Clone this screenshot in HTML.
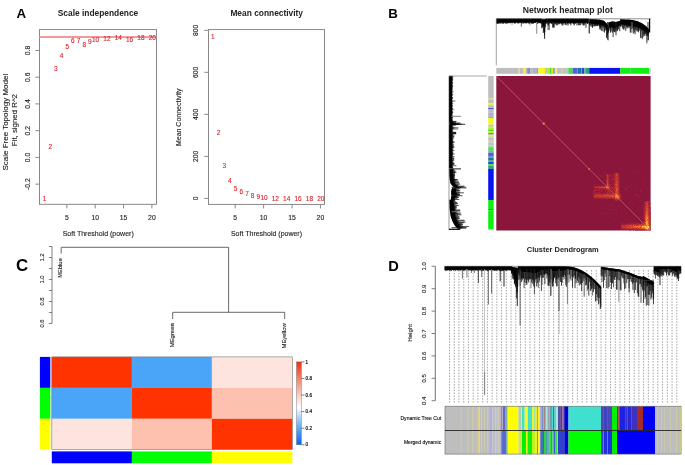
<!DOCTYPE html>
<html><head><meta charset="utf-8"><style>
html,body{margin:0;padding:0;background:#fff;width:685px;height:465px;overflow:hidden}
svg{display:block;will-change:transform}
text{font-family:"Liberation Sans", sans-serif}
</style></head><body>
<svg width="685" height="465" viewBox="0 0 685 465" font-family="Liberation Sans, sans-serif" dominant-baseline="auto">
<defs><filter id="soft" x="0" y="0" width="685" height="465" filterUnits="userSpaceOnUse"><feGaussianBlur stdDeviation="0.45"/></filter><filter id="bl1" x="-50%" y="-50%" width="200%" height="200%"><feGaussianBlur stdDeviation="0.9"/></filter><filter id="bl2" x="-50%" y="-50%" width="200%" height="200%"><feGaussianBlur stdDeviation="1.6"/></filter><clipPath id="hmclip"><rect x="496.3" y="76.0" width="154.3" height="154.5"/></clipPath><filter id="bl0" x="-5%" y="-5%" width="110%" height="110%"><feGaussianBlur stdDeviation="0.6"/></filter><g id="dB"><polygon points="496.60,18.80 497.10,18.80 497.60,18.80 498.10,18.80 498.60,18.80 499.10,18.80 499.60,18.80 500.10,18.80 500.60,18.80 501.10,18.80 501.60,18.80 502.10,18.80 502.60,18.80 503.10,18.80 503.60,18.80 504.10,18.80 504.60,18.80 505.10,18.80 505.60,18.80 506.10,18.80 506.60,18.80 507.10,18.80 507.60,18.80 508.10,18.80 508.60,18.80 509.10,18.80 509.60,18.80 510.10,18.80 510.60,18.80 511.10,18.80 511.60,18.80 512.10,18.80 512.60,18.80 513.10,18.80 513.60,18.80 514.10,18.80 514.60,18.80 515.10,18.80 515.60,18.80 516.10,18.80 516.60,18.80 517.10,18.80 517.60,18.80 518.10,18.80 518.60,18.80 519.10,18.80 519.60,18.80 520.10,18.80 520.60,18.80 521.10,18.80 521.60,18.80 522.10,18.80 522.60,18.80 523.10,18.80 523.60,18.80 524.10,18.80 524.60,18.80 525.10,18.80 525.60,18.80 526.10,18.80 526.60,18.80 527.10,18.80 527.60,18.80 528.10,18.80 528.60,18.80 529.10,18.80 529.60,18.80 530.10,18.80 530.60,18.80 531.10,18.80 531.60,18.80 532.10,18.80 532.60,18.80 533.10,18.80 533.60,18.80 534.10,18.80 534.60,18.80 535.10,18.80 535.60,18.80 536.10,18.80 536.60,18.80 537.10,18.80 537.60,18.80 538.10,18.80 538.60,18.80 539.10,18.80 539.60,18.80 540.10,18.80 540.60,18.80 541.10,18.80 541.60,18.80 541.60,22.60 541.10,22.60 540.60,22.60 540.10,22.60 539.60,22.60 539.10,22.60 538.60,22.60 538.10,22.60 537.60,22.60 537.10,22.60 536.60,22.60 536.10,22.60 535.60,22.60 535.10,22.60 534.60,22.60 534.10,22.60 533.60,22.60 533.10,22.60 532.60,22.60 532.10,22.60 531.60,22.60 531.10,22.60 530.60,22.60 530.10,22.60 529.60,22.60 529.10,22.60 528.60,22.60 528.10,22.60 527.60,22.60 527.10,22.60 526.60,22.60 526.10,22.60 525.60,22.60 525.10,22.60 524.60,22.60 524.10,22.60 523.60,22.60 523.10,22.60 522.60,22.60 522.10,22.60 521.60,22.60 521.10,22.60 520.60,22.60 520.10,22.60 519.60,22.60 519.10,22.60 518.60,22.60 518.10,22.60 517.60,22.60 517.10,22.60 516.60,22.60 516.10,22.60 515.60,22.60 515.10,22.60 514.60,22.60 514.10,22.60 513.60,22.60 513.10,22.60 512.60,22.60 512.10,22.60 511.60,22.60 511.10,22.60 510.60,22.60 510.10,22.60 509.60,22.60 509.10,22.60 508.60,22.60 508.10,22.60 507.60,22.60 507.10,22.60 506.60,22.60 506.10,22.60 505.60,22.60 505.10,22.60 504.60,22.60 504.10,22.60 503.60,22.60 503.10,22.60 502.60,22.60 502.10,22.60 501.60,22.60 501.10,22.60 500.60,22.60 500.10,22.60 499.60,22.60 499.10,22.60 498.60,22.60 498.10,22.60 497.60,22.60 497.10,22.60 496.60,22.60" fill="#000" opacity="1.0"/><polygon points="541.70,19.00 542.20,19.11 542.70,19.22 543.20,19.33 543.70,19.43 544.20,19.45 544.70,19.34 545.20,19.23 545.70,19.11 546.20,19.00 546.20,22.00 545.70,22.95 545.20,24.58 544.70,28.98 544.20,28.59 543.70,26.87 543.20,25.45 542.70,24.30 542.20,23.15 541.70,22.00" fill="#000" opacity="1.0"/><polygon points="546.20,18.80 546.70,18.80 547.20,18.80 547.70,18.80 548.20,18.80 548.70,18.80 549.20,18.80 549.70,18.80 550.20,18.80 550.70,18.80 551.20,18.80 551.70,18.80 552.20,18.80 552.70,18.80 553.20,18.80 553.70,18.80 554.20,18.80 554.70,18.80 555.20,18.80 555.70,18.80 556.20,18.80 556.70,18.80 557.20,18.80 557.70,18.80 558.20,18.80 558.70,18.80 559.20,18.80 559.70,18.80 560.20,18.80 560.70,18.80 561.20,18.80 561.70,18.80 562.20,18.80 562.70,18.80 563.20,18.80 563.70,18.80 564.20,18.80 564.70,18.80 565.20,18.80 565.70,18.80 566.20,18.80 566.70,18.80 567.20,18.80 567.70,18.80 568.20,18.80 568.70,18.80 569.20,18.80 569.70,18.80 570.20,18.80 570.70,18.80 571.20,18.80 571.70,18.80 572.20,18.80 572.70,18.80 573.20,18.80 573.70,18.80 574.20,18.80 574.70,18.80 575.20,18.80 575.70,18.80 576.20,18.80 576.70,18.80 577.20,18.80 577.70,18.80 578.20,18.80 578.70,18.80 579.20,18.80 579.70,18.80 580.20,18.80 580.70,18.80 581.20,18.80 581.70,18.80 582.20,18.80 582.70,18.80 583.20,18.80 583.70,18.80 584.20,18.80 584.70,18.80 585.20,18.80 585.70,18.80 586.20,18.80 586.70,18.80 587.20,18.80 587.70,18.80 588.20,18.80 588.70,18.80 588.70,22.80 588.20,22.80 587.70,22.80 587.20,22.80 586.70,22.80 586.20,22.80 585.70,22.80 585.20,22.80 584.70,22.80 584.20,22.80 583.70,22.80 583.20,22.80 582.70,22.80 582.20,22.80 581.70,22.80 581.20,22.80 580.70,22.80 580.20,22.80 579.70,22.80 579.20,22.80 578.70,22.80 578.20,22.80 577.70,22.80 577.20,22.80 576.70,22.80 576.20,22.80 575.70,22.80 575.20,22.80 574.70,22.80 574.20,22.80 573.70,22.80 573.20,22.80 572.70,22.80 572.20,22.80 571.70,22.80 571.20,22.80 570.70,22.80 570.20,22.80 569.70,22.80 569.20,22.80 568.70,22.80 568.20,22.80 567.70,22.80 567.20,22.80 566.70,22.80 566.20,22.80 565.70,22.80 565.20,22.80 564.70,22.80 564.20,22.80 563.70,22.80 563.20,22.80 562.70,22.80 562.20,22.80 561.70,22.80 561.20,22.80 560.70,22.80 560.20,22.80 559.70,22.80 559.20,22.80 558.70,22.80 558.20,22.80 557.70,22.80 557.20,22.80 556.70,22.80 556.20,22.80 555.70,22.80 555.20,22.80 554.70,22.80 554.20,22.80 553.70,22.80 553.20,22.80 552.70,22.80 552.20,22.80 551.70,22.80 551.20,22.80 550.70,22.80 550.20,22.80 549.70,22.80 549.20,22.80 548.70,22.80 548.20,22.80 547.70,22.80 547.20,22.80 546.70,22.80 546.20,22.80" fill="#000" opacity="1.0"/><polygon points="589.60,19.20 590.10,19.23 590.60,19.26 591.10,19.29 591.60,19.32 592.10,19.34 592.60,19.37 593.10,19.40 593.60,19.43 594.10,19.46 594.60,19.49 595.10,19.52 595.60,19.55 596.10,19.57 596.60,19.60 597.10,19.63 597.60,19.66 598.10,19.69 598.60,19.72 599.10,19.75 599.60,19.78 600.10,19.83 600.60,19.97 601.10,20.10 601.60,20.24 602.10,20.38 602.60,20.52 603.10,20.65 603.60,20.79 604.10,21.00 604.60,21.52 605.10,22.04 605.60,22.55 606.10,23.07 606.60,23.59 607.10,24.25 607.60,25.50 608.10,26.75 608.60,28.00 608.60,32.25 608.10,31.53 607.60,30.81 607.10,30.09 606.60,29.42 606.10,28.77 605.60,28.11 605.10,27.45 604.60,26.79 604.10,26.13 603.60,25.87 603.10,25.70 602.60,25.53 602.10,25.37 601.60,25.20 601.10,25.03 600.60,24.86 600.10,24.70 599.60,24.62 599.10,24.56 598.60,24.50 598.10,24.44 597.60,24.38 597.10,24.33 596.60,24.27 596.10,24.21 595.60,24.15 595.10,24.09 594.60,24.03 594.10,23.98 593.60,23.92 593.10,23.86 592.60,23.80 592.10,23.74 591.60,23.68 591.10,23.63 590.60,23.57 590.10,23.51 589.60,23.45" fill="#000" opacity="1.0"/><polygon points="608.60,22.50 609.10,22.35 609.60,22.21 610.10,22.06 610.60,21.91 611.10,21.76 611.60,21.62 612.10,21.51 612.60,21.58 613.10,21.64 613.60,21.70 614.10,21.76 614.60,21.83 615.10,21.89 615.60,21.95 616.10,21.98 616.60,21.86 617.10,21.74 617.60,21.63 618.10,21.51 618.60,21.40 619.10,21.28 619.60,21.16 620.10,21.05 620.10,24.57 619.60,25.01 619.10,25.45 618.60,25.89 618.10,26.32 617.60,26.76 617.10,27.20 616.60,27.63 616.10,28.07 615.60,28.37 615.10,28.62 614.60,28.52 614.10,28.32 613.60,28.13 613.10,27.93 612.60,27.74 612.10,27.54 611.60,27.51 611.10,27.53 610.60,27.54 610.10,27.56 609.60,27.57 609.10,27.59 608.60,27.60" fill="#000" opacity="1.0"/><polygon points="620.30,19.50 620.80,19.52 621.30,19.53 621.80,19.55 622.30,19.56 622.80,19.58 623.30,19.59 623.80,19.61 624.30,19.62 624.80,19.64 625.30,19.65 625.80,19.67 626.30,19.69 626.80,19.70 627.30,19.72 627.80,19.73 628.30,19.75 628.80,19.76 629.30,19.78 629.80,19.79 630.30,19.86 630.80,19.95 631.30,20.04 631.80,20.13 632.30,20.23 632.80,20.32 633.30,20.41 633.80,20.51 634.30,20.60 634.80,20.69 635.30,20.78 635.80,20.88 636.30,20.97 636.80,21.06 637.30,21.24 637.80,21.47 638.30,21.70 638.80,21.93 639.30,22.16 639.80,22.39 640.30,22.62 640.80,22.85 641.30,23.08 641.80,23.31 642.30,23.62 642.80,23.98 643.30,24.34 643.80,24.70 644.30,25.07 644.80,25.43 645.30,25.79 645.80,26.15 646.30,26.62 646.80,27.15 647.30,27.69 647.80,28.22 648.30,28.75 648.80,29.29 648.80,34.41 648.30,33.94 647.80,33.47 647.30,32.99 646.80,32.52 646.30,32.05 645.80,31.64 645.30,31.34 644.80,31.04 644.30,30.74 643.80,30.44 643.30,30.13 642.80,29.83 642.30,29.53 641.80,29.26 641.30,29.03 640.80,28.80 640.30,28.57 639.80,28.34 639.30,28.11 638.80,27.88 638.30,27.65 637.80,27.42 637.30,27.19 636.80,27.01 636.30,26.92 635.80,26.83 635.30,26.73 634.80,26.64 634.30,26.55 633.80,26.46 633.30,26.36 632.80,26.27 632.30,26.18 631.80,26.08 631.30,25.99 630.80,25.90 630.30,25.81 629.80,25.72 629.30,25.64 628.80,25.56 628.30,25.47 627.80,25.39 627.30,25.31 626.80,25.23 626.30,25.15 625.80,25.07 625.30,24.99 624.80,24.91 624.30,24.82 623.80,24.74 623.30,24.66 622.80,24.58 622.30,24.50 621.80,24.42 621.30,24.34 620.80,24.26 620.30,24.18" fill="#000" opacity="1.0"/><path d="M496.60 18.80V23.46M497.13 18.80V23.90M497.80 18.80V22.97M498.55 18.80V23.90M499.06 18.80V23.01M499.49 18.80V22.82M499.83 18.80V23.90M502.22 18.80V23.11M502.65 18.80V23.70M503.22 18.80V23.90M503.75 18.80V23.13M504.25 18.80V23.09M504.89 18.80V23.01M506.08 18.80V23.38M506.95 18.80V23.90M507.47 18.80V23.17M508.01 18.80V22.96M508.61 18.80V23.29M509.73 18.80V22.65M510.09 18.80V23.45M510.70 18.80V22.99M511.79 18.80V22.90M512.29 18.80V23.03M513.02 18.80V23.11M513.71 18.80V22.67M514.35 18.80V23.51M515.10 18.80V23.89M515.72 18.80V22.94M517.04 18.80V22.66M517.79 18.80V23.55M518.88 18.80V23.55M519.36 18.80V22.72M519.78 18.80V22.68M521.34 18.80V22.96M522.67 18.80V22.70M524.83 18.80V22.74M525.67 18.80V23.18M526.99 18.80V23.27M528.22 18.80V22.85M528.88 18.80V23.82M529.42 18.80V22.68M529.75 18.80V23.90M531.61 18.80V23.78M532.18 18.80V22.94M532.63 18.80V23.90M533.24 18.80V23.90M534.18 18.80V22.89M534.77 18.80V22.93M535.13 18.80V22.68M535.81 18.80V23.06M536.77 18.80V23.64M537.72 18.80V23.90M539.96 18.80V22.99M540.31 18.80V23.34M540.66 18.80V22.99M541.11 18.80V23.76M541.70 19.00V28.20M542.17 19.10V27.43M543.33 19.35V33.09M543.78 19.45V31.58M544.50 19.39V35.14M544.84 19.31V31.98M546.20 18.80V23.21M546.80 18.80V24.03M548.03 18.80V25.40M548.43 18.80V25.40M550.21 18.80V23.24M551.48 18.80V24.12M551.97 18.80V23.37M553.88 18.80V25.40M554.24 18.80V23.65M555.38 18.80V23.53M555.73 18.80V23.25M556.12 18.80V25.40M556.68 18.80V24.53M557.29 18.80V25.40M558.49 18.80V23.88M559.08 18.80V24.04M560.27 18.80V23.29M560.74 18.80V23.54M561.67 18.80V24.30M562.10 18.80V24.65M562.62 18.80V24.21M564.03 18.80V23.42M565.06 18.80V24.86M565.52 18.80V24.66M566.86 18.80V25.40M567.41 18.80V23.41M568.12 18.80V25.40M568.78 18.80V23.28M569.34 18.80V22.91M569.82 18.80V23.65M570.24 18.80V24.14M570.92 18.80V25.40M571.37 18.80V23.27M571.91 18.80V23.08M572.37 18.80V23.32M572.86 18.80V23.29M573.44 18.80V24.51M574.34 18.80V25.40M574.84 18.80V23.78M575.47 18.80V23.72M576.11 18.80V23.12M577.50 18.80V23.30M578.82 18.80V25.09M579.40 18.80V24.85M581.07 18.80V23.17M581.76 18.80V23.42M582.36 18.80V24.71M582.87 18.80V23.47M583.82 18.80V25.40M584.77 18.80V25.40M585.42 18.80V23.32M586.00 18.80V23.49M586.75 18.80V23.14M587.46 18.80V24.00M587.80 18.80V23.75M588.29 18.80V23.10M589.60 19.20V24.96M590.68 19.26V26.46M591.13 19.29V25.12M591.87 19.33V26.82M592.84 19.39V26.85M594.55 19.49V26.30M595.41 19.54V25.66M595.89 19.56V26.27M596.35 19.59V25.69M597.52 19.66V26.07M598.73 19.73V25.50M599.42 19.77V26.58M599.81 19.79V28.87M600.18 19.85V30.05M600.53 19.95V28.10M601.59 20.24V30.71M602.10 20.38V26.77M602.82 20.58V31.29M603.26 20.70V27.78M605.14 22.08V30.40M606.47 23.45V37.92M609.96 22.10V30.80M610.93 21.81V31.90M612.36 21.55V32.55M613.11 21.64V37.16M613.51 21.69V30.85M615.03 21.88V32.30M616.13 21.97V31.58M616.80 21.81V29.73M617.53 21.64V31.10M617.94 21.55V29.72M618.63 21.39V28.98M619.76 21.13V31.24M620.30 19.50V26.45M620.92 19.52V26.39M622.10 19.56V27.29M623.31 19.59V29.35M623.99 19.61V29.77M625.00 19.65V26.35M625.74 19.67V30.87M626.37 19.69V26.74M627.40 19.72V26.66M627.81 19.73V28.35M628.53 19.75V26.66M628.99 19.77V28.15M630.27 19.85V32.51M630.96 19.98V32.71M632.05 20.18V29.29M632.39 20.24V27.81M632.83 20.33V28.16M633.34 20.42V33.63M633.88 20.52V29.85M634.34 20.61V32.53M635.10 20.75V34.28M636.31 20.97V30.40M637.67 21.41V31.13M638.16 21.63V29.29M638.56 21.82V32.40M639.17 22.10V30.76M640.54 22.73V37.77M641.74 23.28V31.25M643.31 24.35V36.54M644.76 25.40V36.07M645.13 25.67V33.13M645.69 26.07V34.27M646.27 26.59V35.95M646.85 27.20V43.31M647.90 28.32V36.38" stroke="#000" stroke-width="0.75" fill="none" opacity="1.0"/><path d="M497.47 18.80V23.85M500.25 18.80V22.81M500.89 18.80V23.90M501.51 18.80V22.84M505.65 18.80V23.84M509.04 18.80V22.75M511.26 18.80V22.85M518.12 18.80V23.17M520.33 18.80V22.66M522.04 18.80V23.90M523.74 18.80V23.90M524.23 18.80V22.95M525.18 18.80V22.86M526.65 18.80V22.70M533.72 18.80V22.68M537.33 18.80V23.85M538.13 18.80V23.04M539.44 18.80V23.19M542.57 19.19V27.27M545.61 19.13V27.22M549.08 18.80V24.13M549.67 18.80V23.53M552.70 18.80V24.17M553.46 18.80V25.40M554.91 18.80V24.00M559.61 18.80V24.33M561.33 18.80V23.41M563.10 18.80V25.30M563.50 18.80V23.29M564.45 18.80V23.31M567.77 18.80V24.01M573.85 18.80V23.41M576.83 18.80V25.40M578.19 18.80V25.40M580.69 18.80V25.13M583.42 18.80V25.40M584.37 18.80V23.73M592.48 19.37V28.05M595.06 19.52V25.59M596.92 19.62V25.78M601.08 20.10V26.40M604.48 21.40V32.57M605.86 22.82V30.39M607.10 24.25V36.64M607.49 25.22V39.68M608.23 27.06V40.39M608.60 22.50V32.67M610.54 21.93V32.78M614.14 21.77V32.09M614.68 21.83V31.99M619.37 21.22V26.49M621.59 19.54V25.51M622.68 19.57V28.60M626.84 19.70V28.48M629.76 19.79V27.41M631.60 20.10V29.04M635.57 20.83V29.72M636.99 21.10V31.77M641.22 23.04V38.27M644.38 25.13V34.49M647.32 27.70V35.44M648.42 28.88V39.94" stroke="#000" stroke-width="0.75" fill="none" opacity="0.9"/><path d="M506.62 18.80V22.83M516.33 18.80V22.79M520.66 18.80V22.85M523.32 18.80V22.83M526.12 18.80V23.90M527.71 18.80V22.80M530.28 18.80V22.97M531.04 18.80V22.76M536.36 18.80V23.42M538.75 18.80V22.93M547.49 18.80V23.42M550.95 18.80V23.29M557.93 18.80V23.36M566.03 18.80V23.61M566.43 18.80V22.93M580.10 18.80V25.40M590.00 19.22V24.65M593.25 19.41V25.98M593.96 19.45V26.32M598.05 19.69V25.84M603.98 20.89V31.84M609.34 22.28V29.09M611.65 21.60V30.22M615.38 21.92V30.20M620.28 21.01V26.15M624.41 19.63V28.15M639.81 22.39V29.95M642.42 23.71V39.22M642.79 23.97V38.05M643.72 24.65V34.18" stroke="#000" stroke-width="0.75" fill="none" opacity="0.75"/><path d="M521.30 22.00V26.70M549.30 22.00V30.00" stroke="#222" stroke-width="0.7" fill="none" opacity="1.0"/><path d="M536.70 22.00V33.70" stroke="#999" stroke-width="1.2" fill="none" opacity="1.0"/><path d="M544.60 22.00V38.80M607.70 22.00V33.80M648.00 22.00V40.50" stroke="#111" stroke-width="0.9" fill="none" opacity="1.0"/><path d="M548.10 22.00V30.20M586.00 22.00V27.90" stroke="#222" stroke-width="0.8" fill="none" opacity="1.0"/><path d="M553.40 22.00V27.60" stroke="#222" stroke-width="2.4" fill="none" opacity="1.0"/><path d="M558.00 22.00V25.00M562.20 22.00V26.00" stroke="#333" stroke-width="0.6" fill="none" opacity="1.0"/><path d="M589.20 22.00V33.50" stroke="#000" stroke-width="1.0" fill="none" opacity="1.0"/><path d="M616.00 22.00V35.40" stroke="#222" stroke-width="0.9" fill="none" opacity="1.0"/><path d="M632.00 22.00V32.40" stroke="#888" stroke-width="0.9" fill="none" opacity="1.0"/><path d="M512.00 22.00V25.00M530.00 22.00V25.50" stroke="#444" stroke-width="0.5" fill="none" opacity="1.0"/><path d="M496.30 18.80H650.60" stroke="#444" stroke-width="0.6" fill="none" opacity="1.0"/><path d="M496.30 18.80V65.30" stroke="#777" stroke-width="0.7" fill="none" opacity="1.0"/><path d="M649.60 18.80V32.60" stroke="#000" stroke-width="1.2" fill="none" opacity="1.0"/></g><linearGradient id="lg" x1="0" y1="1" x2="0" y2="0"><stop offset="0" stop-color="#0066ee"/><stop offset="0.25" stop-color="#7ab8f8"/><stop offset="0.45" stop-color="#ffffff"/><stop offset="0.7" stop-color="#f8a898"/><stop offset="1" stop-color="#f03010"/></linearGradient></defs>
<rect width="685" height="465" fill="#fff"/>
<text x="21.3" y="18" font-size="13.3" text-anchor="middle" font-weight="bold" fill="#000">A</text>
<text x="98" y="15.9" font-size="8.4" text-anchor="middle" font-weight="bold" fill="#222">Scale independence</text>
<rect x="39.5" y="29.6" width="117.0" height="174.70000000000002" fill="none" stroke="#7c7c7c" stroke-width="0.9"/>
<line x1="35.4" y1="184.14000000000001" x2="39.5" y2="184.14000000000001" stroke="#7c7c7c" stroke-width="0.9"/>
<text x="29.9" y="184.14000000000001" font-size="6.8" text-anchor="middle" fill="#222" transform="rotate(-90 29.9 184.14000000000001)" stroke="#222" stroke-width="0.12">-0.2</text>
<line x1="35.4" y1="157.4" x2="39.5" y2="157.4" stroke="#7c7c7c" stroke-width="0.9"/>
<text x="29.9" y="157.4" font-size="6.8" text-anchor="middle" fill="#222" transform="rotate(-90 29.9 157.4)" stroke="#222" stroke-width="0.12">0.0</text>
<line x1="35.4" y1="130.66" x2="39.5" y2="130.66" stroke="#7c7c7c" stroke-width="0.9"/>
<text x="29.9" y="130.66" font-size="6.8" text-anchor="middle" fill="#222" transform="rotate(-90 29.9 130.66)" stroke="#222" stroke-width="0.12">0.2</text>
<line x1="35.4" y1="103.92000000000002" x2="39.5" y2="103.92000000000002" stroke="#7c7c7c" stroke-width="0.9"/>
<text x="29.9" y="103.92000000000002" font-size="6.8" text-anchor="middle" fill="#222" transform="rotate(-90 29.9 103.92000000000002)" stroke="#222" stroke-width="0.12">0.4</text>
<line x1="35.4" y1="77.18000000000002" x2="39.5" y2="77.18000000000002" stroke="#7c7c7c" stroke-width="0.9"/>
<text x="29.9" y="77.18000000000002" font-size="6.8" text-anchor="middle" fill="#222" transform="rotate(-90 29.9 77.18000000000002)" stroke="#222" stroke-width="0.12">0.6</text>
<line x1="35.4" y1="50.44000000000001" x2="39.5" y2="50.44000000000001" stroke="#7c7c7c" stroke-width="0.9"/>
<text x="29.9" y="50.44000000000001" font-size="6.8" text-anchor="middle" fill="#222" transform="rotate(-90 29.9 50.44000000000001)" stroke="#222" stroke-width="0.12">0.8</text>
<line x1="66.85" y1="204.3" x2="66.85" y2="208.4" stroke="#7c7c7c" stroke-width="0.9"/>
<text x="66.85" y="220.0" font-size="6.8" text-anchor="middle" fill="#222" stroke="#222" stroke-width="0.12">5</text>
<line x1="95.19999999999999" y1="204.3" x2="95.19999999999999" y2="208.4" stroke="#7c7c7c" stroke-width="0.9"/>
<text x="95.19999999999999" y="220.0" font-size="6.8" text-anchor="middle" fill="#222" stroke="#222" stroke-width="0.12">10</text>
<line x1="123.55" y1="204.3" x2="123.55" y2="208.4" stroke="#7c7c7c" stroke-width="0.9"/>
<text x="123.55" y="220.0" font-size="6.8" text-anchor="middle" fill="#222" stroke="#222" stroke-width="0.12">15</text>
<line x1="151.89999999999998" y1="204.3" x2="151.89999999999998" y2="208.4" stroke="#7c7c7c" stroke-width="0.9"/>
<text x="151.89999999999998" y="220.0" font-size="6.8" text-anchor="middle" fill="#222" stroke="#222" stroke-width="0.12">20</text>
<text x="98.2" y="236.3" font-size="7.0" text-anchor="middle" fill="#222" stroke="#222" stroke-width="0.12">Soft Threshold (power)</text>
<text x="7.6" y="122.2" font-size="8.0" text-anchor="middle" fill="#222" transform="rotate(-90 7.6 122.2)" stroke="#222" stroke-width="0.12">Scale Free Topology Model</text>
<text x="17.5" y="120.1" font-size="7.85" text-anchor="middle" fill="#222" transform="rotate(-90 17.5 120.1)" stroke="#222" stroke-width="0.12">Fit, signed R^2</text>
<line x1="39.5" y1="37.0" x2="156.5" y2="37.0" stroke="#f29a9a" stroke-width="1.8"/>
<text x="44.57" y="201.3" font-size="6.5" text-anchor="middle" fill="#dd1f26" stroke="#dd1f26" stroke-width="0.12">1</text>
<text x="50.24" y="148.9" font-size="6.5" text-anchor="middle" fill="#dd1f26" stroke="#dd1f26" stroke-width="0.12">2</text>
<text x="55.91" y="70.7" font-size="6.5" text-anchor="middle" fill="#dd1f26" stroke="#dd1f26" stroke-width="0.12">3</text>
<text x="61.58" y="57.5" font-size="6.5" text-anchor="middle" fill="#dd1f26" stroke="#dd1f26" stroke-width="0.12">4</text>
<text x="67.25" y="49.2" font-size="6.5" text-anchor="middle" fill="#dd1f26" stroke="#dd1f26" stroke-width="0.12">5</text>
<text x="72.92" y="43.3" font-size="6.5" text-anchor="middle" fill="#dd1f26" stroke="#dd1f26" stroke-width="0.12">6</text>
<text x="78.59" y="43.3" font-size="6.5" text-anchor="middle" fill="#dd1f26" stroke="#dd1f26" stroke-width="0.12">7</text>
<text x="84.26" y="47.1" font-size="6.5" text-anchor="middle" fill="#dd1f26" stroke="#dd1f26" stroke-width="0.12">8</text>
<text x="89.93" y="43.9" font-size="6.5" text-anchor="middle" fill="#dd1f26" stroke="#dd1f26" stroke-width="0.12">9</text>
<text x="95.6" y="42.4" font-size="6.5" text-anchor="middle" fill="#dd1f26" stroke="#dd1f26" stroke-width="0.12">10</text>
<text x="106.94" y="41.4" font-size="6.5" text-anchor="middle" fill="#dd1f26" stroke="#dd1f26" stroke-width="0.12">12</text>
<text x="118.28" y="40.4" font-size="6.5" text-anchor="middle" fill="#dd1f26" stroke="#dd1f26" stroke-width="0.12">14</text>
<text x="129.62" y="41.6" font-size="6.5" text-anchor="middle" fill="#dd1f26" stroke="#dd1f26" stroke-width="0.12">16</text>
<text x="140.96" y="39.5" font-size="6.5" text-anchor="middle" fill="#dd1f26" stroke="#dd1f26" stroke-width="0.12">18</text>
<text x="152.3" y="39.9" font-size="6.5" text-anchor="middle" fill="#dd1f26" stroke="#dd1f26" stroke-width="0.12">20</text>
<text x="266.7" y="15.9" font-size="8.4" text-anchor="middle" font-weight="bold" fill="#222">Mean connectivity</text>
<rect x="208.5" y="29.6" width="116.0" height="174.8" fill="none" stroke="#7c7c7c" stroke-width="0.9"/>
<line x1="204.3" y1="198.4" x2="208.5" y2="198.4" stroke="#7c7c7c" stroke-width="0.9"/>
<text x="198.3" y="198.4" font-size="6.8" text-anchor="middle" fill="#222" transform="rotate(-90 198.3 198.4)" stroke="#222" stroke-width="0.12">0</text>
<line x1="204.3" y1="156.38" x2="208.5" y2="156.38" stroke="#7c7c7c" stroke-width="0.9"/>
<text x="198.3" y="156.38" font-size="6.8" text-anchor="middle" fill="#222" transform="rotate(-90 198.3 156.38)" stroke="#222" stroke-width="0.12">200</text>
<line x1="204.3" y1="114.36" x2="208.5" y2="114.36" stroke="#7c7c7c" stroke-width="0.9"/>
<text x="198.3" y="114.36" font-size="6.8" text-anchor="middle" fill="#222" transform="rotate(-90 198.3 114.36)" stroke="#222" stroke-width="0.12">400</text>
<line x1="204.3" y1="72.34" x2="208.5" y2="72.34" stroke="#7c7c7c" stroke-width="0.9"/>
<text x="198.3" y="72.34" font-size="6.8" text-anchor="middle" fill="#222" transform="rotate(-90 198.3 72.34)" stroke="#222" stroke-width="0.12">600</text>
<line x1="204.3" y1="30.319999999999993" x2="208.5" y2="30.319999999999993" stroke="#7c7c7c" stroke-width="0.9"/>
<text x="198.3" y="30.319999999999993" font-size="6.8" text-anchor="middle" fill="#222" transform="rotate(-90 198.3 30.319999999999993)" stroke="#222" stroke-width="0.12">800</text>
<line x1="235.2" y1="204.4" x2="235.2" y2="208.4" stroke="#7c7c7c" stroke-width="0.9"/>
<text x="235.2" y="220.0" font-size="6.8" text-anchor="middle" fill="#222" stroke="#222" stroke-width="0.12">5</text>
<line x1="263.59999999999997" y1="204.4" x2="263.59999999999997" y2="208.4" stroke="#7c7c7c" stroke-width="0.9"/>
<text x="263.59999999999997" y="220.0" font-size="6.8" text-anchor="middle" fill="#222" stroke="#222" stroke-width="0.12">10</text>
<line x1="292.0" y1="204.4" x2="292.0" y2="208.4" stroke="#7c7c7c" stroke-width="0.9"/>
<text x="292.0" y="220.0" font-size="6.8" text-anchor="middle" fill="#222" stroke="#222" stroke-width="0.12">15</text>
<line x1="320.4" y1="204.4" x2="320.4" y2="208.4" stroke="#7c7c7c" stroke-width="0.9"/>
<text x="320.4" y="220.0" font-size="6.8" text-anchor="middle" fill="#222" stroke="#222" stroke-width="0.12">20</text>
<text x="266.5" y="236.3" font-size="7.0" text-anchor="middle" fill="#222" stroke="#222" stroke-width="0.12">Soft Threshold (power)</text>
<text x="181.0" y="117.3" font-size="7.0" text-anchor="middle" fill="#222" transform="rotate(-90 181.0 117.3)" stroke="#222" stroke-width="0.12">Mean Connectivity</text>
<text x="212.88" y="39.0" font-size="6.5" text-anchor="middle" fill="#dd1f26" stroke="#dd1f26" stroke-width="0.12">1</text>
<text x="218.56" y="134.8" font-size="6.5" text-anchor="middle" fill="#dd1f26" stroke="#dd1f26" stroke-width="0.12">2</text>
<text x="224.24" y="168.2" font-size="6.5" text-anchor="middle" fill="#dd1f26" stroke="#dd1f26" stroke-width="0.12">3</text>
<text x="229.92" y="182.8" font-size="6.5" text-anchor="middle" fill="#dd1f26" stroke="#dd1f26" stroke-width="0.12">4</text>
<text x="235.6" y="190.5" font-size="6.5" text-anchor="middle" fill="#dd1f26" stroke="#dd1f26" stroke-width="0.12">5</text>
<text x="241.28" y="194.1" font-size="6.5" text-anchor="middle" fill="#dd1f26" stroke="#dd1f26" stroke-width="0.12">6</text>
<text x="246.96" y="196.3" font-size="6.5" text-anchor="middle" fill="#dd1f26" stroke="#dd1f26" stroke-width="0.12">7</text>
<text x="252.64" y="197.8" font-size="6.5" text-anchor="middle" fill="#dd1f26" stroke="#dd1f26" stroke-width="0.12">8</text>
<text x="258.32" y="198.7" font-size="6.5" text-anchor="middle" fill="#dd1f26" stroke="#dd1f26" stroke-width="0.12">9</text>
<text x="264.0" y="199.6" font-size="6.5" text-anchor="middle" fill="#dd1f26" stroke="#dd1f26" stroke-width="0.12">10</text>
<text x="275.36" y="200.5" font-size="6.5" text-anchor="middle" fill="#dd1f26" stroke="#dd1f26" stroke-width="0.12">12</text>
<text x="286.72" y="200.9" font-size="6.5" text-anchor="middle" fill="#dd1f26" stroke="#dd1f26" stroke-width="0.12">14</text>
<text x="298.08" y="201.0" font-size="6.5" text-anchor="middle" fill="#dd1f26" stroke="#dd1f26" stroke-width="0.12">16</text>
<text x="309.44" y="201.1" font-size="6.5" text-anchor="middle" fill="#dd1f26" stroke="#dd1f26" stroke-width="0.12">18</text>
<text x="320.8" y="201.1" font-size="6.5" text-anchor="middle" fill="#dd1f26" stroke="#dd1f26" stroke-width="0.12">20</text>
<text x="393.0" y="17.7" font-size="13.3" text-anchor="middle" font-weight="bold" fill="#000">B</text>
<text x="567.8" y="13.2" font-size="8.65" text-anchor="middle" font-weight="bold" fill="#222">Network heatmap plot</text>
<rect x="496.30" y="67.90" width="22.30" height="5.90" fill="#bebebe"/>
<rect x="518.60" y="67.90" width="1.00" height="5.90" fill="#d6d496"/>
<rect x="519.60" y="67.90" width="4.00" height="5.90" fill="#bebebe"/>
<rect x="523.60" y="67.90" width="1.80" height="5.90" fill="#f2f040"/>
<rect x="525.40" y="67.90" width="1.60" height="5.90" fill="#bebebe"/>
<rect x="527.00" y="67.90" width="1.00" height="5.90" fill="#70b0b0"/>
<rect x="528.30" y="67.90" width="1.50" height="5.90" fill="#5060c0"/>
<rect x="529.80" y="67.90" width="3.20" height="5.90" fill="#bebebe"/>
<rect x="533.00" y="67.90" width="4.00" height="5.90" fill="#b0b0d4"/>
<rect x="537.00" y="67.90" width="1.40" height="5.90" fill="#70c090"/>
<rect x="538.40" y="67.90" width="6.60" height="5.90" fill="#f8f820"/>
<rect x="545.00" y="67.90" width="2.00" height="5.90" fill="#c8c8a8"/>
<rect x="547.00" y="67.90" width="1.00" height="5.90" fill="#c8e040"/>
<rect x="548.00" y="67.90" width="2.00" height="5.90" fill="#a8f030"/>
<rect x="550.00" y="67.90" width="1.60" height="5.90" fill="#40e020"/>
<rect x="551.60" y="67.90" width="2.00" height="5.90" fill="#c8f020"/>
<rect x="553.60" y="67.90" width="1.00" height="5.90" fill="#605070"/>
<rect x="554.60" y="67.90" width="0.70" height="5.90" fill="#b8b8b0"/>
<rect x="555.30" y="67.90" width="1.30" height="5.90" fill="#f0f040"/>
<rect x="556.60" y="67.90" width="1.40" height="5.90" fill="#d0d0a0"/>
<rect x="558.00" y="67.90" width="3.00" height="5.90" fill="#c0c0cc"/>
<rect x="561.00" y="67.90" width="2.00" height="5.90" fill="#d0d0a0"/>
<rect x="563.00" y="67.90" width="3.00" height="5.90" fill="#c0c0d0"/>
<rect x="566.00" y="67.90" width="1.40" height="5.90" fill="#b0d0b0"/>
<rect x="567.40" y="67.90" width="1.00" height="5.90" fill="#a0a0e0"/>
<rect x="568.40" y="67.90" width="2.60" height="5.90" fill="#40e040"/>
<rect x="571.00" y="67.90" width="2.00" height="5.90" fill="#80b0a0"/>
<rect x="573.00" y="67.90" width="4.00" height="5.90" fill="#5060e0"/>
<rect x="577.00" y="67.90" width="1.00" height="5.90" fill="#50b080"/>
<rect x="578.00" y="67.90" width="3.00" height="5.90" fill="#2070a0"/>
<rect x="581.00" y="67.90" width="1.00" height="5.90" fill="#40d040"/>
<rect x="582.00" y="67.90" width="2.50" height="5.90" fill="#3040e0"/>
<rect x="584.50" y="67.90" width="1.50" height="5.90" fill="#30e040"/>
<rect x="586.00" y="67.90" width="3.20" height="5.90" fill="#30a080"/>
<rect x="589.20" y="67.90" width="31.10" height="5.90" fill="#0a14f0"/>
<rect x="620.30" y="67.90" width="9.00" height="5.90" fill="#10f010"/>
<rect x="629.30" y="67.90" width="1.20" height="5.90" fill="#20a060"/>
<rect x="630.50" y="67.90" width="18.90" height="5.90" fill="#10f010"/>
<rect x="649.40" y="67.90" width="1.20" height="5.90" fill="#c4c4ec"/>
<rect x="488.20" y="76.00" width="5.50" height="22.30" fill="#bebebe"/>
<rect x="488.20" y="98.30" width="5.50" height="1.00" fill="#d6d496"/>
<rect x="488.20" y="99.30" width="5.50" height="4.00" fill="#bebebe"/>
<rect x="488.20" y="103.30" width="5.50" height="1.80" fill="#f2f040"/>
<rect x="488.20" y="105.10" width="5.50" height="1.60" fill="#bebebe"/>
<rect x="488.20" y="106.70" width="5.50" height="1.00" fill="#70b0b0"/>
<rect x="488.20" y="108.00" width="5.50" height="1.50" fill="#5060c0"/>
<rect x="488.20" y="109.50" width="5.50" height="3.20" fill="#bebebe"/>
<rect x="488.20" y="112.70" width="5.50" height="4.00" fill="#b0b0d4"/>
<rect x="488.20" y="116.70" width="5.50" height="1.40" fill="#70c090"/>
<rect x="488.20" y="118.10" width="5.50" height="6.60" fill="#f8f820"/>
<rect x="488.20" y="124.70" width="5.50" height="2.00" fill="#c8c8a8"/>
<rect x="488.20" y="126.70" width="5.50" height="1.00" fill="#c8e040"/>
<rect x="488.20" y="127.70" width="5.50" height="2.00" fill="#a8f030"/>
<rect x="488.20" y="129.70" width="5.50" height="1.60" fill="#40e020"/>
<rect x="488.20" y="131.30" width="5.50" height="2.00" fill="#c8f020"/>
<rect x="488.20" y="133.30" width="5.50" height="1.00" fill="#605070"/>
<rect x="488.20" y="134.30" width="5.50" height="0.70" fill="#b8b8b0"/>
<rect x="488.20" y="135.00" width="5.50" height="1.30" fill="#f0f040"/>
<rect x="488.20" y="136.30" width="5.50" height="1.40" fill="#d0d0a0"/>
<rect x="488.20" y="137.70" width="5.50" height="3.00" fill="#c0c0cc"/>
<rect x="488.20" y="140.70" width="5.50" height="2.00" fill="#d0d0a0"/>
<rect x="488.20" y="142.70" width="5.50" height="3.00" fill="#c0c0d0"/>
<rect x="488.20" y="145.70" width="5.50" height="1.40" fill="#b0d0b0"/>
<rect x="488.20" y="147.10" width="5.50" height="1.00" fill="#a0a0e0"/>
<rect x="488.20" y="148.10" width="5.50" height="2.60" fill="#40e040"/>
<rect x="488.20" y="150.70" width="5.50" height="2.00" fill="#80b0a0"/>
<rect x="488.20" y="152.70" width="5.50" height="4.00" fill="#5060e0"/>
<rect x="488.20" y="156.70" width="5.50" height="1.00" fill="#50b080"/>
<rect x="488.20" y="157.70" width="5.50" height="3.00" fill="#2070a0"/>
<rect x="488.20" y="160.70" width="5.50" height="1.00" fill="#40d040"/>
<rect x="488.20" y="161.70" width="5.50" height="2.50" fill="#3040e0"/>
<rect x="488.20" y="164.20" width="5.50" height="1.50" fill="#30e040"/>
<rect x="488.20" y="165.70" width="5.50" height="3.20" fill="#30a080"/>
<rect x="488.20" y="168.90" width="5.50" height="31.10" fill="#0a14f0"/>
<rect x="488.20" y="200.00" width="5.50" height="9.00" fill="#10f010"/>
<rect x="488.20" y="209.00" width="5.50" height="1.20" fill="#20a060"/>
<rect x="488.20" y="210.20" width="5.50" height="18.90" fill="#10f010"/>
<rect x="488.20" y="229.10" width="5.50" height="1.20" fill="#c4c4ec"/>
<rect x="496.30" y="76.00" width="154.30" height="154.50" fill="#8a173b"/>
<g clip-path="url(#hmclip)"><g filter="url(#bl0)">
<rect x="634" y="170" width="1" height="1" fill="#951c39"/>
<rect x="637" y="170" width="1" height="1" fill="#9a1e38"/>
<rect x="599" y="171" width="1" height="1" fill="#971c39"/>
<rect x="605" y="171" width="1" height="1" fill="#991d38"/>
<rect x="632" y="171" width="1" height="1" fill="#971c39"/>
<rect x="634" y="172" width="1" height="1" fill="#981d38"/>
<rect x="614" y="173" width="1" height="1" fill="#9d1f38"/>
<rect x="615" y="173" width="1" height="1" fill="#c5352e"/>
<rect x="616" y="173" width="1" height="1" fill="#c8382d"/>
<rect x="617" y="173" width="1" height="1" fill="#bf3130"/>
<rect x="618" y="173" width="1" height="1" fill="#af2635"/>
<rect x="634" y="173" width="1" height="1" fill="#981d38"/>
<rect x="606" y="174" width="1" height="1" fill="#9c1e38"/>
<rect x="607" y="174" width="1" height="1" fill="#b12734"/>
<rect x="608" y="174" width="1" height="1" fill="#a52236"/>
<rect x="610" y="174" width="1" height="1" fill="#a12037"/>
<rect x="613" y="174" width="1" height="1" fill="#951b39"/>
<rect x="614" y="174" width="1" height="1" fill="#9f2037"/>
<rect x="615" y="174" width="1" height="1" fill="#b02734"/>
<rect x="616" y="174" width="1" height="1" fill="#d54427"/>
<rect x="617" y="174" width="1" height="1" fill="#c03130"/>
<rect x="618" y="174" width="1" height="1" fill="#a42236"/>
<rect x="619" y="174" width="1" height="1" fill="#971c39"/>
<rect x="621" y="174" width="1" height="1" fill="#971c39"/>
<rect x="600" y="175" width="1" height="1" fill="#991d38"/>
<rect x="604" y="175" width="1" height="1" fill="#971c39"/>
<rect x="606" y="175" width="1" height="1" fill="#a02037"/>
<rect x="607" y="175" width="1" height="1" fill="#ca3a2c"/>
<rect x="608" y="175" width="1" height="1" fill="#a32137"/>
<rect x="609" y="175" width="1" height="1" fill="#a72336"/>
<rect x="610" y="175" width="1" height="1" fill="#971c39"/>
<rect x="611" y="175" width="1" height="1" fill="#ae2635"/>
<rect x="613" y="175" width="1" height="1" fill="#a32237"/>
<rect x="614" y="175" width="1" height="1" fill="#ac2535"/>
<rect x="615" y="175" width="1" height="1" fill="#b42934"/>
<rect x="616" y="175" width="1" height="1" fill="#d74626"/>
<rect x="617" y="175" width="1" height="1" fill="#bf3030"/>
<rect x="618" y="175" width="1" height="1" fill="#aa2435"/>
<rect x="619" y="175" width="1" height="1" fill="#971d39"/>
<rect x="642" y="175" width="1" height="1" fill="#9d1f38"/>
<rect x="602" y="176" width="1" height="1" fill="#9f2037"/>
<rect x="606" y="176" width="1" height="1" fill="#a22137"/>
<rect x="607" y="176" width="1" height="1" fill="#c4352e"/>
<rect x="608" y="176" width="1" height="1" fill="#ab2535"/>
<rect x="609" y="176" width="1" height="1" fill="#aa2435"/>
<rect x="610" y="176" width="1" height="1" fill="#9a1e38"/>
<rect x="613" y="176" width="1" height="1" fill="#981d39"/>
<rect x="614" y="176" width="1" height="1" fill="#ab2535"/>
<rect x="615" y="176" width="1" height="1" fill="#bb2d32"/>
<rect x="616" y="176" width="1" height="1" fill="#c2332f"/>
<rect x="617" y="176" width="1" height="1" fill="#b52934"/>
<rect x="618" y="176" width="1" height="1" fill="#b12734"/>
<rect x="619" y="176" width="1" height="1" fill="#9c1e38"/>
<rect x="606" y="177" width="1" height="1" fill="#9d1f38"/>
<rect x="607" y="177" width="1" height="1" fill="#ca3a2c"/>
<rect x="608" y="177" width="1" height="1" fill="#a32137"/>
<rect x="611" y="177" width="1" height="1" fill="#9a1e38"/>
<rect x="613" y="177" width="1" height="1" fill="#9f2037"/>
<rect x="614" y="177" width="1" height="1" fill="#a32137"/>
<rect x="615" y="177" width="1" height="1" fill="#b82a33"/>
<rect x="616" y="177" width="1" height="1" fill="#bb2d32"/>
<rect x="617" y="177" width="1" height="1" fill="#bd2e31"/>
<rect x="618" y="177" width="1" height="1" fill="#b32834"/>
<rect x="619" y="177" width="1" height="1" fill="#9b1e38"/>
<rect x="634" y="177" width="1" height="1" fill="#961c39"/>
<rect x="606" y="178" width="1" height="1" fill="#a62336"/>
<rect x="607" y="178" width="1" height="1" fill="#ba2b32"/>
<rect x="608" y="178" width="1" height="1" fill="#ae2635"/>
<rect x="611" y="178" width="1" height="1" fill="#951c39"/>
<rect x="612" y="178" width="1" height="1" fill="#ac2535"/>
<rect x="613" y="178" width="1" height="1" fill="#a02037"/>
<rect x="614" y="178" width="1" height="1" fill="#a92436"/>
<rect x="615" y="178" width="1" height="1" fill="#b52934"/>
<rect x="616" y="178" width="1" height="1" fill="#d54427"/>
<rect x="617" y="178" width="1" height="1" fill="#d04029"/>
<rect x="618" y="178" width="1" height="1" fill="#ae2635"/>
<rect x="619" y="178" width="1" height="1" fill="#9c1e38"/>
<rect x="606" y="179" width="1" height="1" fill="#a32137"/>
<rect x="607" y="179" width="1" height="1" fill="#cd3d2a"/>
<rect x="608" y="179" width="1" height="1" fill="#ae2635"/>
<rect x="609" y="179" width="1" height="1" fill="#ab2435"/>
<rect x="610" y="179" width="1" height="1" fill="#a92436"/>
<rect x="612" y="179" width="1" height="1" fill="#9e1f37"/>
<rect x="613" y="179" width="1" height="1" fill="#991d38"/>
<rect x="614" y="179" width="1" height="1" fill="#ae2635"/>
<rect x="615" y="179" width="1" height="1" fill="#c8382d"/>
<rect x="616" y="179" width="1" height="1" fill="#c03130"/>
<rect x="617" y="179" width="1" height="1" fill="#bb2c32"/>
<rect x="618" y="179" width="1" height="1" fill="#aa2435"/>
<rect x="619" y="179" width="1" height="1" fill="#961c39"/>
<rect x="621" y="179" width="1" height="1" fill="#991d38"/>
<rect x="599" y="180" width="1" height="1" fill="#981d38"/>
<rect x="604" y="180" width="1" height="1" fill="#991d38"/>
<rect x="605" y="180" width="1" height="1" fill="#981d39"/>
<rect x="606" y="180" width="1" height="1" fill="#a92436"/>
<rect x="607" y="180" width="1" height="1" fill="#c9392c"/>
<rect x="608" y="180" width="1" height="1" fill="#ad2535"/>
<rect x="609" y="180" width="1" height="1" fill="#9a1e38"/>
<rect x="611" y="180" width="1" height="1" fill="#991d38"/>
<rect x="612" y="180" width="1" height="1" fill="#a52236"/>
<rect x="613" y="180" width="1" height="1" fill="#9d1f38"/>
<rect x="614" y="180" width="1" height="1" fill="#a32137"/>
<rect x="615" y="180" width="1" height="1" fill="#b32834"/>
<rect x="616" y="180" width="1" height="1" fill="#c93a2c"/>
<rect x="617" y="180" width="1" height="1" fill="#c9392c"/>
<rect x="618" y="180" width="1" height="1" fill="#b62933"/>
<rect x="619" y="180" width="1" height="1" fill="#9c1e38"/>
<rect x="644" y="180" width="1" height="1" fill="#9d1f38"/>
<rect x="606" y="181" width="1" height="1" fill="#b12734"/>
<rect x="607" y="181" width="1" height="1" fill="#dc4a25"/>
<rect x="608" y="181" width="1" height="1" fill="#a92436"/>
<rect x="610" y="181" width="1" height="1" fill="#9b1e38"/>
<rect x="611" y="181" width="1" height="1" fill="#a42236"/>
<rect x="613" y="181" width="1" height="1" fill="#951c39"/>
<rect x="614" y="181" width="1" height="1" fill="#a62336"/>
<rect x="615" y="181" width="1" height="1" fill="#ba2c32"/>
<rect x="616" y="181" width="1" height="1" fill="#c93a2c"/>
<rect x="617" y="181" width="1" height="1" fill="#d03f29"/>
<rect x="618" y="181" width="1" height="1" fill="#af2635"/>
<rect x="619" y="181" width="1" height="1" fill="#981d39"/>
<rect x="633" y="181" width="1" height="1" fill="#991d38"/>
<rect x="644" y="181" width="1" height="1" fill="#9a1e38"/>
<rect x="593" y="182" width="1" height="1" fill="#9b1e38"/>
<rect x="606" y="182" width="1" height="1" fill="#ad2535"/>
<rect x="607" y="182" width="1" height="1" fill="#cb3b2b"/>
<rect x="608" y="182" width="1" height="1" fill="#af2635"/>
<rect x="609" y="182" width="1" height="1" fill="#a92436"/>
<rect x="613" y="182" width="1" height="1" fill="#991d38"/>
<rect x="614" y="182" width="1" height="1" fill="#a82336"/>
<rect x="615" y="182" width="1" height="1" fill="#bf3030"/>
<rect x="616" y="182" width="1" height="1" fill="#d14129"/>
<rect x="617" y="182" width="1" height="1" fill="#d74626"/>
<rect x="618" y="182" width="1" height="1" fill="#a82336"/>
<rect x="619" y="182" width="1" height="1" fill="#9b1e38"/>
<rect x="606" y="183" width="1" height="1" fill="#b12734"/>
<rect x="607" y="183" width="1" height="1" fill="#d94825"/>
<rect x="608" y="183" width="1" height="1" fill="#b92b33"/>
<rect x="610" y="183" width="1" height="1" fill="#961c39"/>
<rect x="612" y="183" width="1" height="1" fill="#981d39"/>
<rect x="613" y="183" width="1" height="1" fill="#a32137"/>
<rect x="614" y="183" width="1" height="1" fill="#ab2435"/>
<rect x="615" y="183" width="1" height="1" fill="#c1332f"/>
<rect x="616" y="183" width="1" height="1" fill="#d74627"/>
<rect x="617" y="183" width="1" height="1" fill="#ba2c32"/>
<rect x="618" y="183" width="1" height="1" fill="#b92b33"/>
<rect x="619" y="183" width="1" height="1" fill="#9e1f37"/>
<rect x="622" y="183" width="1" height="1" fill="#961c39"/>
<rect x="593" y="184" width="1" height="1" fill="#9a1e38"/>
<rect x="594" y="184" width="1" height="1" fill="#961c39"/>
<rect x="596" y="184" width="1" height="1" fill="#9d1f38"/>
<rect x="601" y="184" width="1" height="1" fill="#981d39"/>
<rect x="606" y="184" width="1" height="1" fill="#a82336"/>
<rect x="607" y="184" width="1" height="1" fill="#e25122"/>
<rect x="608" y="184" width="1" height="1" fill="#b52934"/>
<rect x="609" y="184" width="1" height="1" fill="#b32834"/>
<rect x="610" y="184" width="1" height="1" fill="#b52934"/>
<rect x="613" y="184" width="1" height="1" fill="#a12137"/>
<rect x="614" y="184" width="1" height="1" fill="#ac2535"/>
<rect x="615" y="184" width="1" height="1" fill="#d74627"/>
<rect x="616" y="184" width="1" height="1" fill="#e45822"/>
<rect x="617" y="184" width="1" height="1" fill="#cd3d2a"/>
<rect x="618" y="184" width="1" height="1" fill="#aa2435"/>
<rect x="619" y="184" width="1" height="1" fill="#9f2037"/>
<rect x="625" y="184" width="1" height="1" fill="#9a1d38"/>
<rect x="642" y="184" width="1" height="1" fill="#961c39"/>
<rect x="598" y="185" width="1" height="1" fill="#9a1e38"/>
<rect x="605" y="185" width="1" height="1" fill="#a72336"/>
<rect x="606" y="185" width="1" height="1" fill="#ae2635"/>
<rect x="607" y="185" width="1" height="1" fill="#e35222"/>
<rect x="608" y="185" width="1" height="1" fill="#bd2e31"/>
<rect x="609" y="185" width="1" height="1" fill="#a02037"/>
<rect x="610" y="185" width="1" height="1" fill="#9b1e38"/>
<rect x="612" y="185" width="1" height="1" fill="#981d38"/>
<rect x="613" y="185" width="1" height="1" fill="#971c39"/>
<rect x="614" y="185" width="1" height="1" fill="#a62336"/>
<rect x="615" y="185" width="1" height="1" fill="#ca3a2c"/>
<rect x="616" y="185" width="1" height="1" fill="#d14029"/>
<rect x="617" y="185" width="1" height="1" fill="#c6372d"/>
<rect x="618" y="185" width="1" height="1" fill="#ad2635"/>
<rect x="619" y="185" width="1" height="1" fill="#971d39"/>
<rect x="621" y="185" width="1" height="1" fill="#961c39"/>
<rect x="631" y="185" width="1" height="1" fill="#9c1e38"/>
<rect x="633" y="185" width="1" height="1" fill="#971c39"/>
<rect x="594" y="186" width="1" height="1" fill="#a52236"/>
<rect x="595" y="186" width="1" height="1" fill="#b12734"/>
<rect x="596" y="186" width="1" height="1" fill="#a32137"/>
<rect x="597" y="186" width="1" height="1" fill="#ae2635"/>
<rect x="598" y="186" width="1" height="1" fill="#af2635"/>
<rect x="599" y="186" width="1" height="1" fill="#b52934"/>
<rect x="600" y="186" width="1" height="1" fill="#aa2435"/>
<rect x="601" y="186" width="1" height="1" fill="#c3342e"/>
<rect x="602" y="186" width="1" height="1" fill="#b12734"/>
<rect x="603" y="186" width="1" height="1" fill="#b42934"/>
<rect x="604" y="186" width="1" height="1" fill="#bd2f31"/>
<rect x="605" y="186" width="1" height="1" fill="#bb2d32"/>
<rect x="606" y="186" width="1" height="1" fill="#eb6e22"/>
<rect x="607" y="186" width="1" height="1" fill="#e65d22"/>
<rect x="608" y="186" width="1" height="1" fill="#da4925"/>
<rect x="609" y="186" width="1" height="1" fill="#c93a2c"/>
<rect x="610" y="186" width="1" height="1" fill="#981d39"/>
<rect x="611" y="186" width="1" height="1" fill="#961c39"/>
<rect x="612" y="186" width="1" height="1" fill="#9a1e38"/>
<rect x="613" y="186" width="1" height="1" fill="#961c39"/>
<rect x="614" y="186" width="1" height="1" fill="#a52236"/>
<rect x="615" y="186" width="1" height="1" fill="#be2f31"/>
<rect x="616" y="186" width="1" height="1" fill="#ce3e2a"/>
<rect x="617" y="186" width="1" height="1" fill="#d34328"/>
<rect x="618" y="186" width="1" height="1" fill="#b52934"/>
<rect x="619" y="186" width="1" height="1" fill="#9a1e38"/>
<rect x="628" y="186" width="1" height="1" fill="#b52933"/>
<rect x="645" y="186" width="1" height="1" fill="#9c1e38"/>
<rect x="594" y="187" width="1" height="1" fill="#b12734"/>
<rect x="595" y="187" width="1" height="1" fill="#c7382d"/>
<rect x="596" y="187" width="1" height="1" fill="#b22834"/>
<rect x="597" y="187" width="1" height="1" fill="#cf3e2a"/>
<rect x="598" y="187" width="1" height="1" fill="#b92b33"/>
<rect x="599" y="187" width="1" height="1" fill="#d14029"/>
<rect x="600" y="187" width="1" height="1" fill="#d44328"/>
<rect x="601" y="187" width="1" height="1" fill="#c8382d"/>
<rect x="602" y="187" width="1" height="1" fill="#db4925"/>
<rect x="603" y="187" width="1" height="1" fill="#da4825"/>
<rect x="604" y="187" width="1" height="1" fill="#d74627"/>
<rect x="605" y="187" width="1" height="1" fill="#c9392c"/>
<rect x="606" y="187" width="1" height="1" fill="#ef7d22"/>
<rect x="607" y="187" width="1" height="1" fill="#f48c22"/>
<rect x="608" y="187" width="1" height="1" fill="#e55b22"/>
<rect x="609" y="187" width="1" height="1" fill="#bc2e31"/>
<rect x="610" y="187" width="1" height="1" fill="#b62933"/>
<rect x="611" y="187" width="1" height="1" fill="#a72336"/>
<rect x="612" y="187" width="1" height="1" fill="#a72336"/>
<rect x="613" y="187" width="1" height="1" fill="#ab2535"/>
<rect x="614" y="187" width="1" height="1" fill="#aa2435"/>
<rect x="615" y="187" width="1" height="1" fill="#d14129"/>
<rect x="616" y="187" width="1" height="1" fill="#cb3b2b"/>
<rect x="617" y="187" width="1" height="1" fill="#d54427"/>
<rect x="618" y="187" width="1" height="1" fill="#b12734"/>
<rect x="619" y="187" width="1" height="1" fill="#991d38"/>
<rect x="626" y="187" width="1" height="1" fill="#a32137"/>
<rect x="630" y="187" width="1" height="1" fill="#961c39"/>
<rect x="636" y="187" width="1" height="1" fill="#961c39"/>
<rect x="646" y="187" width="1" height="1" fill="#9a1e38"/>
<rect x="594" y="188" width="1" height="1" fill="#9c1e38"/>
<rect x="595" y="188" width="1" height="1" fill="#9b1e38"/>
<rect x="596" y="188" width="1" height="1" fill="#9d1f38"/>
<rect x="597" y="188" width="1" height="1" fill="#9c1f38"/>
<rect x="598" y="188" width="1" height="1" fill="#9d1f38"/>
<rect x="599" y="188" width="1" height="1" fill="#a62336"/>
<rect x="600" y="188" width="1" height="1" fill="#a52236"/>
<rect x="601" y="188" width="1" height="1" fill="#a72336"/>
<rect x="602" y="188" width="1" height="1" fill="#a32137"/>
<rect x="603" y="188" width="1" height="1" fill="#a82436"/>
<rect x="604" y="188" width="1" height="1" fill="#ac2535"/>
<rect x="605" y="188" width="1" height="1" fill="#b12734"/>
<rect x="606" y="188" width="1" height="1" fill="#d44427"/>
<rect x="607" y="188" width="1" height="1" fill="#da4825"/>
<rect x="608" y="188" width="1" height="1" fill="#d04029"/>
<rect x="609" y="188" width="1" height="1" fill="#ac2535"/>
<rect x="610" y="188" width="1" height="1" fill="#aa2435"/>
<rect x="611" y="188" width="1" height="1" fill="#a72336"/>
<rect x="612" y="188" width="1" height="1" fill="#a42236"/>
<rect x="613" y="188" width="1" height="1" fill="#a52236"/>
<rect x="614" y="188" width="1" height="1" fill="#b32834"/>
<rect x="615" y="188" width="1" height="1" fill="#bb2d32"/>
<rect x="616" y="188" width="1" height="1" fill="#db4925"/>
<rect x="617" y="188" width="1" height="1" fill="#e25022"/>
<rect x="618" y="188" width="1" height="1" fill="#b52933"/>
<rect x="619" y="188" width="1" height="1" fill="#9f2037"/>
<rect x="625" y="188" width="1" height="1" fill="#9d1f38"/>
<rect x="637" y="188" width="1" height="1" fill="#9c1f38"/>
<rect x="640" y="188" width="1" height="1" fill="#9a1e38"/>
<rect x="595" y="189" width="1" height="1" fill="#a52236"/>
<rect x="596" y="189" width="1" height="1" fill="#9c1e38"/>
<rect x="597" y="189" width="1" height="1" fill="#a22137"/>
<rect x="599" y="189" width="1" height="1" fill="#a72336"/>
<rect x="601" y="189" width="1" height="1" fill="#a42237"/>
<rect x="602" y="189" width="1" height="1" fill="#a02037"/>
<rect x="603" y="189" width="1" height="1" fill="#a32137"/>
<rect x="604" y="189" width="1" height="1" fill="#ab2435"/>
<rect x="605" y="189" width="1" height="1" fill="#9c1f38"/>
<rect x="606" y="189" width="1" height="1" fill="#a42237"/>
<rect x="607" y="189" width="1" height="1" fill="#af2635"/>
<rect x="608" y="189" width="1" height="1" fill="#b42834"/>
<rect x="609" y="189" width="1" height="1" fill="#9a1e38"/>
<rect x="610" y="189" width="1" height="1" fill="#a82336"/>
<rect x="612" y="189" width="1" height="1" fill="#971c39"/>
<rect x="613" y="189" width="1" height="1" fill="#ba2c32"/>
<rect x="614" y="189" width="1" height="1" fill="#ae2635"/>
<rect x="615" y="189" width="1" height="1" fill="#c5362e"/>
<rect x="616" y="189" width="1" height="1" fill="#e96622"/>
<rect x="617" y="189" width="1" height="1" fill="#de4d23"/>
<rect x="618" y="189" width="1" height="1" fill="#c1322f"/>
<rect x="619" y="189" width="1" height="1" fill="#9b1e38"/>
<rect x="625" y="189" width="1" height="1" fill="#b12734"/>
<rect x="626" y="189" width="1" height="1" fill="#ac2535"/>
<rect x="593" y="190" width="1" height="1" fill="#9d1f38"/>
<rect x="594" y="190" width="1" height="1" fill="#a92436"/>
<rect x="595" y="190" width="1" height="1" fill="#ae2635"/>
<rect x="596" y="190" width="1" height="1" fill="#bd2e31"/>
<rect x="598" y="190" width="1" height="1" fill="#b22834"/>
<rect x="599" y="190" width="1" height="1" fill="#b42834"/>
<rect x="601" y="190" width="1" height="1" fill="#b02734"/>
<rect x="602" y="190" width="1" height="1" fill="#9e1f37"/>
<rect x="605" y="190" width="1" height="1" fill="#961c39"/>
<rect x="606" y="190" width="1" height="1" fill="#aa2435"/>
<rect x="607" y="190" width="1" height="1" fill="#a82336"/>
<rect x="608" y="190" width="1" height="1" fill="#bb2c32"/>
<rect x="609" y="190" width="1" height="1" fill="#981d39"/>
<rect x="610" y="190" width="1" height="1" fill="#a12137"/>
<rect x="612" y="190" width="1" height="1" fill="#b92b33"/>
<rect x="613" y="190" width="1" height="1" fill="#9a1e38"/>
<rect x="614" y="190" width="1" height="1" fill="#b92b33"/>
<rect x="615" y="190" width="1" height="1" fill="#c1322f"/>
<rect x="616" y="190" width="1" height="1" fill="#d14029"/>
<rect x="617" y="190" width="1" height="1" fill="#dd4c24"/>
<rect x="618" y="190" width="1" height="1" fill="#b12734"/>
<rect x="619" y="190" width="1" height="1" fill="#991d38"/>
<rect x="640" y="190" width="1" height="1" fill="#aa2435"/>
<rect x="593" y="191" width="1" height="1" fill="#b72a33"/>
<rect x="594" y="191" width="1" height="1" fill="#981d39"/>
<rect x="599" y="191" width="1" height="1" fill="#991d38"/>
<rect x="600" y="191" width="1" height="1" fill="#a72336"/>
<rect x="601" y="191" width="1" height="1" fill="#aa2435"/>
<rect x="605" y="191" width="1" height="1" fill="#b82a33"/>
<rect x="607" y="191" width="1" height="1" fill="#991d38"/>
<rect x="608" y="191" width="1" height="1" fill="#b92a33"/>
<rect x="609" y="191" width="1" height="1" fill="#ad2535"/>
<rect x="610" y="191" width="1" height="1" fill="#9a1d38"/>
<rect x="611" y="191" width="1" height="1" fill="#ab2535"/>
<rect x="612" y="191" width="1" height="1" fill="#9a1d38"/>
<rect x="613" y="191" width="1" height="1" fill="#9e1f38"/>
<rect x="614" y="191" width="1" height="1" fill="#b72a33"/>
<rect x="615" y="191" width="1" height="1" fill="#c1322f"/>
<rect x="616" y="191" width="1" height="1" fill="#e45622"/>
<rect x="617" y="191" width="1" height="1" fill="#d94826"/>
<rect x="618" y="191" width="1" height="1" fill="#af2635"/>
<rect x="619" y="191" width="1" height="1" fill="#a02037"/>
<rect x="635" y="191" width="1" height="1" fill="#991d38"/>
<rect x="641" y="191" width="1" height="1" fill="#b12734"/>
<rect x="593" y="192" width="1" height="1" fill="#9f2037"/>
<rect x="595" y="192" width="1" height="1" fill="#a22137"/>
<rect x="596" y="192" width="1" height="1" fill="#a42236"/>
<rect x="598" y="192" width="1" height="1" fill="#981d39"/>
<rect x="599" y="192" width="1" height="1" fill="#b72a33"/>
<rect x="600" y="192" width="1" height="1" fill="#981d39"/>
<rect x="603" y="192" width="1" height="1" fill="#9b1e38"/>
<rect x="605" y="192" width="1" height="1" fill="#961c39"/>
<rect x="606" y="192" width="1" height="1" fill="#9c1e38"/>
<rect x="607" y="192" width="1" height="1" fill="#b72a33"/>
<rect x="608" y="192" width="1" height="1" fill="#a02037"/>
<rect x="609" y="192" width="1" height="1" fill="#aa2435"/>
<rect x="610" y="192" width="1" height="1" fill="#ae2635"/>
<rect x="612" y="192" width="1" height="1" fill="#9b1e38"/>
<rect x="613" y="192" width="1" height="1" fill="#a92436"/>
<rect x="614" y="192" width="1" height="1" fill="#aa2435"/>
<rect x="615" y="192" width="1" height="1" fill="#c4352e"/>
<rect x="616" y="192" width="1" height="1" fill="#d84726"/>
<rect x="617" y="192" width="1" height="1" fill="#d03f29"/>
<rect x="618" y="192" width="1" height="1" fill="#c4352e"/>
<rect x="619" y="192" width="1" height="1" fill="#a22137"/>
<rect x="627" y="192" width="1" height="1" fill="#9b1e38"/>
<rect x="644" y="192" width="1" height="1" fill="#961c39"/>
<rect x="593" y="193" width="1" height="1" fill="#a22137"/>
<rect x="594" y="193" width="1" height="1" fill="#a02037"/>
<rect x="595" y="193" width="1" height="1" fill="#9d1f38"/>
<rect x="596" y="193" width="1" height="1" fill="#ac2535"/>
<rect x="597" y="193" width="1" height="1" fill="#a22137"/>
<rect x="598" y="193" width="1" height="1" fill="#9b1e38"/>
<rect x="599" y="193" width="1" height="1" fill="#a72336"/>
<rect x="600" y="193" width="1" height="1" fill="#a12137"/>
<rect x="601" y="193" width="1" height="1" fill="#a22137"/>
<rect x="602" y="193" width="1" height="1" fill="#9c1e38"/>
<rect x="603" y="193" width="1" height="1" fill="#a82336"/>
<rect x="604" y="193" width="1" height="1" fill="#9d1f38"/>
<rect x="605" y="193" width="1" height="1" fill="#a02037"/>
<rect x="606" y="193" width="1" height="1" fill="#a62236"/>
<rect x="607" y="193" width="1" height="1" fill="#b32834"/>
<rect x="608" y="193" width="1" height="1" fill="#b72933"/>
<rect x="609" y="193" width="1" height="1" fill="#a12137"/>
<rect x="610" y="193" width="1" height="1" fill="#ab2535"/>
<rect x="611" y="193" width="1" height="1" fill="#b52934"/>
<rect x="612" y="193" width="1" height="1" fill="#a22137"/>
<rect x="613" y="193" width="1" height="1" fill="#b32834"/>
<rect x="614" y="193" width="1" height="1" fill="#ac2535"/>
<rect x="615" y="193" width="1" height="1" fill="#e45622"/>
<rect x="616" y="193" width="1" height="1" fill="#e76022"/>
<rect x="617" y="193" width="1" height="1" fill="#d64527"/>
<rect x="618" y="193" width="1" height="1" fill="#b72a33"/>
<rect x="619" y="193" width="1" height="1" fill="#a32137"/>
<rect x="620" y="193" width="1" height="1" fill="#981d39"/>
<rect x="631" y="193" width="1" height="1" fill="#991d38"/>
<rect x="594" y="194" width="1" height="1" fill="#b52934"/>
<rect x="595" y="194" width="1" height="1" fill="#b42834"/>
<rect x="596" y="194" width="1" height="1" fill="#b52934"/>
<rect x="597" y="194" width="1" height="1" fill="#b72a33"/>
<rect x="598" y="194" width="1" height="1" fill="#bf3130"/>
<rect x="599" y="194" width="1" height="1" fill="#b12734"/>
<rect x="600" y="194" width="1" height="1" fill="#b62933"/>
<rect x="601" y="194" width="1" height="1" fill="#b62933"/>
<rect x="602" y="194" width="1" height="1" fill="#b32834"/>
<rect x="603" y="194" width="1" height="1" fill="#ba2c32"/>
<rect x="604" y="194" width="1" height="1" fill="#c03130"/>
<rect x="605" y="194" width="1" height="1" fill="#b32834"/>
<rect x="606" y="194" width="1" height="1" fill="#c7382d"/>
<rect x="607" y="194" width="1" height="1" fill="#c6372d"/>
<rect x="608" y="194" width="1" height="1" fill="#b42834"/>
<rect x="609" y="194" width="1" height="1" fill="#cc3c2b"/>
<rect x="610" y="194" width="1" height="1" fill="#b92b32"/>
<rect x="611" y="194" width="1" height="1" fill="#bc2e31"/>
<rect x="612" y="194" width="1" height="1" fill="#c03130"/>
<rect x="613" y="194" width="1" height="1" fill="#bf3030"/>
<rect x="614" y="194" width="1" height="1" fill="#be2f31"/>
<rect x="615" y="194" width="1" height="1" fill="#e25222"/>
<rect x="616" y="194" width="1" height="1" fill="#e96822"/>
<rect x="617" y="194" width="1" height="1" fill="#e14f23"/>
<rect x="618" y="194" width="1" height="1" fill="#d84726"/>
<rect x="619" y="194" width="1" height="1" fill="#b12734"/>
<rect x="620" y="194" width="1" height="1" fill="#a42237"/>
<rect x="634" y="194" width="1" height="1" fill="#9d1f38"/>
<rect x="635" y="194" width="1" height="1" fill="#a52236"/>
<rect x="593" y="195" width="1" height="1" fill="#961c39"/>
<rect x="594" y="195" width="1" height="1" fill="#b42834"/>
<rect x="595" y="195" width="1" height="1" fill="#c5352e"/>
<rect x="596" y="195" width="1" height="1" fill="#bb2d32"/>
<rect x="597" y="195" width="1" height="1" fill="#ca3b2c"/>
<rect x="598" y="195" width="1" height="1" fill="#cd3d2a"/>
<rect x="599" y="195" width="1" height="1" fill="#cd3d2a"/>
<rect x="600" y="195" width="1" height="1" fill="#d24228"/>
<rect x="601" y="195" width="1" height="1" fill="#be2f31"/>
<rect x="602" y="195" width="1" height="1" fill="#be3031"/>
<rect x="603" y="195" width="1" height="1" fill="#cb3c2b"/>
<rect x="604" y="195" width="1" height="1" fill="#d24228"/>
<rect x="605" y="195" width="1" height="1" fill="#df4d23"/>
<rect x="606" y="195" width="1" height="1" fill="#c6362e"/>
<rect x="607" y="195" width="1" height="1" fill="#e25022"/>
<rect x="608" y="195" width="1" height="1" fill="#e65f22"/>
<rect x="609" y="195" width="1" height="1" fill="#c8392c"/>
<rect x="610" y="195" width="1" height="1" fill="#dc4b24"/>
<rect x="611" y="195" width="1" height="1" fill="#e55922"/>
<rect x="612" y="195" width="1" height="1" fill="#da4925"/>
<rect x="613" y="195" width="1" height="1" fill="#cf3f2a"/>
<rect x="614" y="195" width="1" height="1" fill="#d24228"/>
<rect x="615" y="195" width="1" height="1" fill="#ef7c22"/>
<rect x="616" y="195" width="1" height="1" fill="#fcc53b"/>
<rect x="617" y="195" width="1" height="1" fill="#eb6d22"/>
<rect x="618" y="195" width="1" height="1" fill="#d54427"/>
<rect x="619" y="195" width="1" height="1" fill="#c8382d"/>
<rect x="620" y="195" width="1" height="1" fill="#a42236"/>
<rect x="621" y="195" width="1" height="1" fill="#951c39"/>
<rect x="637" y="195" width="1" height="1" fill="#ba2c32"/>
<rect x="593" y="196" width="1" height="1" fill="#ae2635"/>
<rect x="594" y="196" width="1" height="1" fill="#c2332f"/>
<rect x="595" y="196" width="1" height="1" fill="#cd3d2a"/>
<rect x="596" y="196" width="1" height="1" fill="#c6362d"/>
<rect x="597" y="196" width="1" height="1" fill="#c1322f"/>
<rect x="598" y="196" width="1" height="1" fill="#c8392c"/>
<rect x="599" y="196" width="1" height="1" fill="#ca3a2c"/>
<rect x="600" y="196" width="1" height="1" fill="#ca3a2c"/>
<rect x="601" y="196" width="1" height="1" fill="#cc3c2b"/>
<rect x="602" y="196" width="1" height="1" fill="#be2f31"/>
<rect x="603" y="196" width="1" height="1" fill="#c3342e"/>
<rect x="604" y="196" width="1" height="1" fill="#c2332f"/>
<rect x="605" y="196" width="1" height="1" fill="#dc4a25"/>
<rect x="606" y="196" width="1" height="1" fill="#c8392c"/>
<rect x="607" y="196" width="1" height="1" fill="#c2332f"/>
<rect x="608" y="196" width="1" height="1" fill="#c9392c"/>
<rect x="609" y="196" width="1" height="1" fill="#dc4b24"/>
<rect x="610" y="196" width="1" height="1" fill="#cc3c2b"/>
<rect x="611" y="196" width="1" height="1" fill="#df4d23"/>
<rect x="612" y="196" width="1" height="1" fill="#e45522"/>
<rect x="613" y="196" width="1" height="1" fill="#dd4b24"/>
<rect x="614" y="196" width="1" height="1" fill="#d14129"/>
<rect x="615" y="196" width="1" height="1" fill="#f59122"/>
<rect x="616" y="196" width="1" height="1" fill="#fbbc37"/>
<rect x="617" y="196" width="1" height="1" fill="#f48b22"/>
<rect x="618" y="196" width="1" height="1" fill="#ef7c22"/>
<rect x="619" y="196" width="1" height="1" fill="#cc3c2b"/>
<rect x="620" y="196" width="1" height="1" fill="#a92436"/>
<rect x="621" y="196" width="1" height="1" fill="#9a1e38"/>
<rect x="594" y="197" width="1" height="1" fill="#a92436"/>
<rect x="595" y="197" width="1" height="1" fill="#ba2c32"/>
<rect x="596" y="197" width="1" height="1" fill="#b12734"/>
<rect x="597" y="197" width="1" height="1" fill="#ad2635"/>
<rect x="598" y="197" width="1" height="1" fill="#aa2435"/>
<rect x="599" y="197" width="1" height="1" fill="#c1332f"/>
<rect x="600" y="197" width="1" height="1" fill="#b72a33"/>
<rect x="601" y="197" width="1" height="1" fill="#ba2c32"/>
<rect x="602" y="197" width="1" height="1" fill="#c1322f"/>
<rect x="603" y="197" width="1" height="1" fill="#b82a33"/>
<rect x="604" y="197" width="1" height="1" fill="#bf3130"/>
<rect x="605" y="197" width="1" height="1" fill="#b62933"/>
<rect x="606" y="197" width="1" height="1" fill="#c03130"/>
<rect x="607" y="197" width="1" height="1" fill="#b52934"/>
<rect x="608" y="197" width="1" height="1" fill="#b12734"/>
<rect x="609" y="197" width="1" height="1" fill="#c93a2c"/>
<rect x="610" y="197" width="1" height="1" fill="#c4352e"/>
<rect x="611" y="197" width="1" height="1" fill="#b52933"/>
<rect x="612" y="197" width="1" height="1" fill="#cf3f2a"/>
<rect x="613" y="197" width="1" height="1" fill="#d54427"/>
<rect x="614" y="197" width="1" height="1" fill="#c03130"/>
<rect x="615" y="197" width="1" height="1" fill="#e14f22"/>
<rect x="616" y="197" width="1" height="1" fill="#e65c22"/>
<rect x="617" y="197" width="1" height="1" fill="#fab735"/>
<rect x="618" y="197" width="1" height="1" fill="#f28722"/>
<rect x="619" y="197" width="1" height="1" fill="#ce3e2a"/>
<rect x="620" y="197" width="1" height="1" fill="#b42834"/>
<rect x="621" y="197" width="1" height="1" fill="#9b1e38"/>
<rect x="639" y="197" width="1" height="1" fill="#9a1d38"/>
<rect x="594" y="198" width="1" height="1" fill="#9c1e38"/>
<rect x="595" y="198" width="1" height="1" fill="#9e1f38"/>
<rect x="596" y="198" width="1" height="1" fill="#9b1e38"/>
<rect x="597" y="198" width="1" height="1" fill="#9d1f38"/>
<rect x="598" y="198" width="1" height="1" fill="#9d1f38"/>
<rect x="599" y="198" width="1" height="1" fill="#9c1e38"/>
<rect x="600" y="198" width="1" height="1" fill="#9d1f38"/>
<rect x="601" y="198" width="1" height="1" fill="#9e1f38"/>
<rect x="602" y="198" width="1" height="1" fill="#a02037"/>
<rect x="603" y="198" width="1" height="1" fill="#9d1f38"/>
<rect x="604" y="198" width="1" height="1" fill="#9e1f38"/>
<rect x="605" y="198" width="1" height="1" fill="#9f2037"/>
<rect x="606" y="198" width="1" height="1" fill="#aa2435"/>
<rect x="607" y="198" width="1" height="1" fill="#a42236"/>
<rect x="608" y="198" width="1" height="1" fill="#a82436"/>
<rect x="609" y="198" width="1" height="1" fill="#a62236"/>
<rect x="610" y="198" width="1" height="1" fill="#a42236"/>
<rect x="611" y="198" width="1" height="1" fill="#9f2037"/>
<rect x="612" y="198" width="1" height="1" fill="#a62336"/>
<rect x="613" y="198" width="1" height="1" fill="#a62336"/>
<rect x="614" y="198" width="1" height="1" fill="#b62933"/>
<rect x="615" y="198" width="1" height="1" fill="#e45622"/>
<rect x="616" y="198" width="1" height="1" fill="#ce3e2a"/>
<rect x="617" y="198" width="1" height="1" fill="#ed7622"/>
<rect x="618" y="198" width="1" height="1" fill="#c8382d"/>
<rect x="619" y="198" width="1" height="1" fill="#be2f31"/>
<rect x="620" y="198" width="1" height="1" fill="#a72336"/>
<rect x="621" y="198" width="1" height="1" fill="#961c39"/>
<rect x="631" y="198" width="1" height="1" fill="#971c39"/>
<rect x="642" y="198" width="1" height="1" fill="#951b39"/>
<rect x="607" y="199" width="1" height="1" fill="#951c39"/>
<rect x="612" y="199" width="1" height="1" fill="#951b39"/>
<rect x="613" y="199" width="1" height="1" fill="#981d39"/>
<rect x="614" y="199" width="1" height="1" fill="#a22137"/>
<rect x="615" y="199" width="1" height="1" fill="#ab2535"/>
<rect x="616" y="199" width="1" height="1" fill="#b72933"/>
<rect x="617" y="199" width="1" height="1" fill="#b92b33"/>
<rect x="618" y="199" width="1" height="1" fill="#bb2d32"/>
<rect x="619" y="199" width="1" height="1" fill="#a22137"/>
<rect x="620" y="199" width="1" height="1" fill="#981d39"/>
<rect x="622" y="199" width="1" height="1" fill="#9a1e38"/>
<rect x="614" y="200" width="1" height="1" fill="#991d38"/>
<rect x="615" y="200" width="1" height="1" fill="#a12137"/>
<rect x="616" y="200" width="1" height="1" fill="#a72336"/>
<rect x="617" y="200" width="1" height="1" fill="#a32137"/>
<rect x="618" y="200" width="1" height="1" fill="#9b1e38"/>
<rect x="619" y="200" width="1" height="1" fill="#961c39"/>
<rect x="639" y="200" width="1" height="1" fill="#9a1e38"/>
<rect x="641" y="200" width="1" height="1" fill="#971d39"/>
<rect x="649" y="200" width="1" height="1" fill="#971c39"/>
<rect x="644" y="201" width="1" height="1" fill="#9b1e38"/>
<rect x="645" y="201" width="1" height="1" fill="#b02734"/>
<rect x="646" y="201" width="1" height="1" fill="#ae2635"/>
<rect x="647" y="201" width="1" height="1" fill="#c5362e"/>
<rect x="648" y="201" width="1" height="1" fill="#a52236"/>
<rect x="649" y="201" width="1" height="1" fill="#a02037"/>
<rect x="613" y="202" width="1" height="1" fill="#a92436"/>
<rect x="629" y="202" width="1" height="1" fill="#9a1d38"/>
<rect x="644" y="202" width="1" height="1" fill="#9b1e38"/>
<rect x="645" y="202" width="1" height="1" fill="#b52934"/>
<rect x="646" y="202" width="1" height="1" fill="#bd2f31"/>
<rect x="647" y="202" width="1" height="1" fill="#c5362e"/>
<rect x="648" y="202" width="1" height="1" fill="#ac2535"/>
<rect x="649" y="202" width="1" height="1" fill="#a42236"/>
<rect x="632" y="203" width="1" height="1" fill="#9a1e38"/>
<rect x="644" y="203" width="1" height="1" fill="#a12137"/>
<rect x="645" y="203" width="1" height="1" fill="#ba2c32"/>
<rect x="646" y="203" width="1" height="1" fill="#d14129"/>
<rect x="647" y="203" width="1" height="1" fill="#d24129"/>
<rect x="648" y="203" width="1" height="1" fill="#b52934"/>
<rect x="649" y="203" width="1" height="1" fill="#a22137"/>
<rect x="650" y="203" width="1" height="1" fill="#951c39"/>
<rect x="643" y="204" width="1" height="1" fill="#961c39"/>
<rect x="644" y="204" width="1" height="1" fill="#9d1f38"/>
<rect x="645" y="204" width="1" height="1" fill="#bc2e31"/>
<rect x="646" y="204" width="1" height="1" fill="#cb3c2b"/>
<rect x="647" y="204" width="1" height="1" fill="#d34228"/>
<rect x="648" y="204" width="1" height="1" fill="#aa2435"/>
<rect x="649" y="204" width="1" height="1" fill="#9e1f38"/>
<rect x="608" y="205" width="1" height="1" fill="#9c1e38"/>
<rect x="611" y="205" width="1" height="1" fill="#ad2535"/>
<rect x="618" y="205" width="1" height="1" fill="#961c39"/>
<rect x="621" y="205" width="1" height="1" fill="#9a1e38"/>
<rect x="642" y="205" width="1" height="1" fill="#9c1e38"/>
<rect x="643" y="205" width="1" height="1" fill="#951c39"/>
<rect x="644" y="205" width="1" height="1" fill="#a12137"/>
<rect x="645" y="205" width="1" height="1" fill="#af2635"/>
<rect x="646" y="205" width="1" height="1" fill="#c2332f"/>
<rect x="647" y="205" width="1" height="1" fill="#cb3b2b"/>
<rect x="648" y="205" width="1" height="1" fill="#b82a33"/>
<rect x="649" y="205" width="1" height="1" fill="#a92436"/>
<rect x="611" y="206" width="1" height="1" fill="#951b39"/>
<rect x="643" y="206" width="1" height="1" fill="#961c39"/>
<rect x="644" y="206" width="1" height="1" fill="#9e1f37"/>
<rect x="645" y="206" width="1" height="1" fill="#c03130"/>
<rect x="646" y="206" width="1" height="1" fill="#db4a25"/>
<rect x="647" y="206" width="1" height="1" fill="#dd4c24"/>
<rect x="648" y="206" width="1" height="1" fill="#bf3130"/>
<rect x="649" y="206" width="1" height="1" fill="#ab2535"/>
<rect x="615" y="207" width="1" height="1" fill="#951b39"/>
<rect x="642" y="207" width="1" height="1" fill="#991d38"/>
<rect x="644" y="207" width="1" height="1" fill="#a32137"/>
<rect x="645" y="207" width="1" height="1" fill="#c93a2c"/>
<rect x="646" y="207" width="1" height="1" fill="#d44328"/>
<rect x="647" y="207" width="1" height="1" fill="#bf3030"/>
<rect x="648" y="207" width="1" height="1" fill="#b12734"/>
<rect x="649" y="207" width="1" height="1" fill="#a62336"/>
<rect x="650" y="207" width="1" height="1" fill="#971d39"/>
<rect x="643" y="208" width="1" height="1" fill="#951c39"/>
<rect x="644" y="208" width="1" height="1" fill="#a52236"/>
<rect x="645" y="208" width="1" height="1" fill="#c03230"/>
<rect x="646" y="208" width="1" height="1" fill="#cd3d2a"/>
<rect x="647" y="208" width="1" height="1" fill="#e55b22"/>
<rect x="648" y="208" width="1" height="1" fill="#c03130"/>
<rect x="649" y="208" width="1" height="1" fill="#af2635"/>
<rect x="650" y="208" width="1" height="1" fill="#991d38"/>
<rect x="608" y="209" width="1" height="1" fill="#9b1e38"/>
<rect x="611" y="209" width="1" height="1" fill="#9f2037"/>
<rect x="614" y="209" width="1" height="1" fill="#ae2635"/>
<rect x="643" y="209" width="1" height="1" fill="#9d1f38"/>
<rect x="644" y="209" width="1" height="1" fill="#aa2435"/>
<rect x="645" y="209" width="1" height="1" fill="#c2332f"/>
<rect x="646" y="209" width="1" height="1" fill="#e65e22"/>
<rect x="647" y="209" width="1" height="1" fill="#d24228"/>
<rect x="648" y="209" width="1" height="1" fill="#c6372d"/>
<rect x="649" y="209" width="1" height="1" fill="#a62336"/>
<rect x="650" y="209" width="1" height="1" fill="#981d39"/>
<rect x="611" y="210" width="1" height="1" fill="#9b1e38"/>
<rect x="616" y="210" width="1" height="1" fill="#a02037"/>
<rect x="624" y="210" width="1" height="1" fill="#9b1e38"/>
<rect x="643" y="210" width="1" height="1" fill="#981d39"/>
<rect x="644" y="210" width="1" height="1" fill="#a92436"/>
<rect x="645" y="210" width="1" height="1" fill="#c03130"/>
<rect x="646" y="210" width="1" height="1" fill="#c7372d"/>
<rect x="647" y="210" width="1" height="1" fill="#d34228"/>
<rect x="648" y="210" width="1" height="1" fill="#b92b32"/>
<rect x="649" y="210" width="1" height="1" fill="#aa2435"/>
<rect x="609" y="211" width="1" height="1" fill="#961c39"/>
<rect x="616" y="211" width="1" height="1" fill="#991d38"/>
<rect x="643" y="211" width="1" height="1" fill="#991d38"/>
<rect x="644" y="211" width="1" height="1" fill="#b42834"/>
<rect x="645" y="211" width="1" height="1" fill="#bb2d32"/>
<rect x="646" y="211" width="1" height="1" fill="#e14f23"/>
<rect x="647" y="211" width="1" height="1" fill="#eb6e22"/>
<rect x="648" y="211" width="1" height="1" fill="#bf3130"/>
<rect x="649" y="211" width="1" height="1" fill="#b12734"/>
<rect x="650" y="211" width="1" height="1" fill="#971c39"/>
<rect x="603" y="212" width="1" height="1" fill="#9d1f38"/>
<rect x="640" y="212" width="1" height="1" fill="#951b39"/>
<rect x="643" y="212" width="1" height="1" fill="#9c1e38"/>
<rect x="644" y="212" width="1" height="1" fill="#ac2535"/>
<rect x="645" y="212" width="1" height="1" fill="#c5362e"/>
<rect x="646" y="212" width="1" height="1" fill="#e86422"/>
<rect x="647" y="212" width="1" height="1" fill="#d74626"/>
<rect x="648" y="212" width="1" height="1" fill="#c5362e"/>
<rect x="649" y="212" width="1" height="1" fill="#b52934"/>
<rect x="650" y="212" width="1" height="1" fill="#9c1f38"/>
<rect x="607" y="213" width="1" height="1" fill="#a82436"/>
<rect x="611" y="213" width="1" height="1" fill="#9d1f38"/>
<rect x="643" y="213" width="1" height="1" fill="#9a1e38"/>
<rect x="644" y="213" width="1" height="1" fill="#ad2635"/>
<rect x="645" y="213" width="1" height="1" fill="#c13230"/>
<rect x="646" y="213" width="1" height="1" fill="#ed7522"/>
<rect x="647" y="213" width="1" height="1" fill="#d04029"/>
<rect x="648" y="213" width="1" height="1" fill="#bf3030"/>
<rect x="649" y="213" width="1" height="1" fill="#a72336"/>
<rect x="650" y="213" width="1" height="1" fill="#9a1e38"/>
<rect x="601" y="214" width="1" height="1" fill="#971c39"/>
<rect x="606" y="214" width="1" height="1" fill="#991d38"/>
<rect x="616" y="214" width="1" height="1" fill="#9b1e38"/>
<rect x="638" y="214" width="1" height="1" fill="#981d39"/>
<rect x="643" y="214" width="1" height="1" fill="#981d39"/>
<rect x="644" y="214" width="1" height="1" fill="#a72336"/>
<rect x="645" y="214" width="1" height="1" fill="#c3342f"/>
<rect x="646" y="214" width="1" height="1" fill="#eb6d22"/>
<rect x="647" y="214" width="1" height="1" fill="#e55922"/>
<rect x="648" y="214" width="1" height="1" fill="#c1322f"/>
<rect x="649" y="214" width="1" height="1" fill="#b22834"/>
<rect x="650" y="214" width="1" height="1" fill="#9c1e38"/>
<rect x="624" y="215" width="1" height="1" fill="#971c39"/>
<rect x="633" y="215" width="1" height="1" fill="#981d38"/>
<rect x="643" y="215" width="1" height="1" fill="#981d39"/>
<rect x="644" y="215" width="1" height="1" fill="#b02734"/>
<rect x="645" y="215" width="1" height="1" fill="#e45822"/>
<rect x="646" y="215" width="1" height="1" fill="#da4925"/>
<rect x="647" y="215" width="1" height="1" fill="#ee7722"/>
<rect x="648" y="215" width="1" height="1" fill="#c8382d"/>
<rect x="649" y="215" width="1" height="1" fill="#b62933"/>
<rect x="650" y="215" width="1" height="1" fill="#9e1f38"/>
<rect x="597" y="216" width="1" height="1" fill="#971c39"/>
<rect x="610" y="216" width="1" height="1" fill="#981d39"/>
<rect x="639" y="216" width="1" height="1" fill="#991d38"/>
<rect x="642" y="216" width="1" height="1" fill="#981d39"/>
<rect x="643" y="216" width="1" height="1" fill="#9b1e38"/>
<rect x="644" y="216" width="1" height="1" fill="#b02734"/>
<rect x="645" y="216" width="1" height="1" fill="#da4925"/>
<rect x="646" y="216" width="1" height="1" fill="#f18122"/>
<rect x="647" y="216" width="1" height="1" fill="#e76122"/>
<rect x="648" y="216" width="1" height="1" fill="#d94726"/>
<rect x="649" y="216" width="1" height="1" fill="#b12734"/>
<rect x="650" y="216" width="1" height="1" fill="#9c1e38"/>
<rect x="631" y="217" width="1" height="1" fill="#951b39"/>
<rect x="643" y="217" width="1" height="1" fill="#971d39"/>
<rect x="644" y="217" width="1" height="1" fill="#b02734"/>
<rect x="645" y="217" width="1" height="1" fill="#e35322"/>
<rect x="646" y="217" width="1" height="1" fill="#f08022"/>
<rect x="647" y="217" width="1" height="1" fill="#f48d22"/>
<rect x="648" y="217" width="1" height="1" fill="#d24129"/>
<rect x="649" y="217" width="1" height="1" fill="#bb2c32"/>
<rect x="650" y="217" width="1" height="1" fill="#9b1e38"/>
<rect x="634" y="218" width="1" height="1" fill="#981d39"/>
<rect x="642" y="218" width="1" height="1" fill="#981d38"/>
<rect x="643" y="218" width="1" height="1" fill="#9c1e38"/>
<rect x="644" y="218" width="1" height="1" fill="#b62933"/>
<rect x="645" y="218" width="1" height="1" fill="#dc4b24"/>
<rect x="646" y="218" width="1" height="1" fill="#e86522"/>
<rect x="647" y="218" width="1" height="1" fill="#f48c22"/>
<rect x="648" y="218" width="1" height="1" fill="#d74626"/>
<rect x="649" y="218" width="1" height="1" fill="#b72a33"/>
<rect x="650" y="218" width="1" height="1" fill="#981d39"/>
<rect x="615" y="219" width="1" height="1" fill="#9d1f38"/>
<rect x="629" y="219" width="1" height="1" fill="#951b39"/>
<rect x="643" y="219" width="1" height="1" fill="#9d1f38"/>
<rect x="644" y="219" width="1" height="1" fill="#b52934"/>
<rect x="645" y="219" width="1" height="1" fill="#e04e23"/>
<rect x="646" y="219" width="1" height="1" fill="#fab533"/>
<rect x="647" y="219" width="1" height="1" fill="#e65e22"/>
<rect x="648" y="219" width="1" height="1" fill="#dd4c24"/>
<rect x="649" y="219" width="1" height="1" fill="#c2332f"/>
<rect x="650" y="219" width="1" height="1" fill="#9d1f38"/>
<rect x="625" y="220" width="1" height="1" fill="#971c39"/>
<rect x="643" y="220" width="1" height="1" fill="#9c1e38"/>
<rect x="644" y="220" width="1" height="1" fill="#b42834"/>
<rect x="645" y="220" width="1" height="1" fill="#cc3c2b"/>
<rect x="646" y="220" width="1" height="1" fill="#ed7522"/>
<rect x="647" y="220" width="1" height="1" fill="#eb6d22"/>
<rect x="648" y="220" width="1" height="1" fill="#ce3e2a"/>
<rect x="649" y="220" width="1" height="1" fill="#c5362e"/>
<rect x="650" y="220" width="1" height="1" fill="#a12037"/>
<rect x="603" y="221" width="1" height="1" fill="#961c39"/>
<rect x="630" y="221" width="1" height="1" fill="#951c39"/>
<rect x="641" y="221" width="1" height="1" fill="#991d38"/>
<rect x="643" y="221" width="1" height="1" fill="#991d38"/>
<rect x="644" y="221" width="1" height="1" fill="#bc2d32"/>
<rect x="645" y="221" width="1" height="1" fill="#d84726"/>
<rect x="646" y="221" width="1" height="1" fill="#f38a22"/>
<rect x="647" y="221" width="1" height="1" fill="#f7a32b"/>
<rect x="648" y="221" width="1" height="1" fill="#e96622"/>
<rect x="649" y="221" width="1" height="1" fill="#ae2635"/>
<rect x="650" y="221" width="1" height="1" fill="#a12037"/>
<rect x="628" y="222" width="1" height="1" fill="#951b39"/>
<rect x="630" y="222" width="1" height="1" fill="#9f1f37"/>
<rect x="633" y="222" width="1" height="1" fill="#961c39"/>
<rect x="641" y="222" width="1" height="1" fill="#9d1f38"/>
<rect x="643" y="222" width="1" height="1" fill="#9e1f38"/>
<rect x="644" y="222" width="1" height="1" fill="#be3030"/>
<rect x="645" y="222" width="1" height="1" fill="#ef7c22"/>
<rect x="646" y="222" width="1" height="1" fill="#fbc43a"/>
<rect x="647" y="222" width="1" height="1" fill="#ee7722"/>
<rect x="648" y="222" width="1" height="1" fill="#e55922"/>
<rect x="649" y="222" width="1" height="1" fill="#c5362e"/>
<rect x="650" y="222" width="1" height="1" fill="#9e1f37"/>
<rect x="621" y="223" width="1" height="1" fill="#961c39"/>
<rect x="622" y="223" width="1" height="1" fill="#9d1f38"/>
<rect x="623" y="223" width="1" height="1" fill="#951c39"/>
<rect x="624" y="223" width="1" height="1" fill="#951c39"/>
<rect x="626" y="223" width="1" height="1" fill="#9d1f38"/>
<rect x="627" y="223" width="1" height="1" fill="#951c39"/>
<rect x="628" y="223" width="1" height="1" fill="#9a1e38"/>
<rect x="629" y="223" width="1" height="1" fill="#9d1f38"/>
<rect x="630" y="223" width="1" height="1" fill="#9c1f38"/>
<rect x="631" y="223" width="1" height="1" fill="#9b1e38"/>
<rect x="632" y="223" width="1" height="1" fill="#a02037"/>
<rect x="633" y="223" width="1" height="1" fill="#991d38"/>
<rect x="634" y="223" width="1" height="1" fill="#9f2037"/>
<rect x="635" y="223" width="1" height="1" fill="#9a1e38"/>
<rect x="636" y="223" width="1" height="1" fill="#a42237"/>
<rect x="637" y="223" width="1" height="1" fill="#a42236"/>
<rect x="638" y="223" width="1" height="1" fill="#a22137"/>
<rect x="639" y="223" width="1" height="1" fill="#9f2037"/>
<rect x="640" y="223" width="1" height="1" fill="#a42237"/>
<rect x="641" y="223" width="1" height="1" fill="#a02037"/>
<rect x="642" y="223" width="1" height="1" fill="#a42237"/>
<rect x="643" y="223" width="1" height="1" fill="#a62336"/>
<rect x="644" y="223" width="1" height="1" fill="#b32834"/>
<rect x="645" y="223" width="1" height="1" fill="#d74627"/>
<rect x="646" y="223" width="1" height="1" fill="#faba36"/>
<rect x="647" y="223" width="1" height="1" fill="#f7a22b"/>
<rect x="648" y="223" width="1" height="1" fill="#d74627"/>
<rect x="649" y="223" width="1" height="1" fill="#bb2c32"/>
<rect x="650" y="223" width="1" height="1" fill="#a92436"/>
<rect x="621" y="224" width="1" height="1" fill="#a42237"/>
<rect x="622" y="224" width="1" height="1" fill="#9e1f37"/>
<rect x="623" y="224" width="1" height="1" fill="#a52236"/>
<rect x="624" y="224" width="1" height="1" fill="#a02037"/>
<rect x="625" y="224" width="1" height="1" fill="#a82336"/>
<rect x="626" y="224" width="1" height="1" fill="#b02734"/>
<rect x="627" y="224" width="1" height="1" fill="#ab2535"/>
<rect x="628" y="224" width="1" height="1" fill="#a32137"/>
<rect x="629" y="224" width="1" height="1" fill="#ae2635"/>
<rect x="630" y="224" width="1" height="1" fill="#ae2635"/>
<rect x="631" y="224" width="1" height="1" fill="#b12734"/>
<rect x="632" y="224" width="1" height="1" fill="#b32834"/>
<rect x="633" y="224" width="1" height="1" fill="#bb2d32"/>
<rect x="634" y="224" width="1" height="1" fill="#b12734"/>
<rect x="635" y="224" width="1" height="1" fill="#ba2b32"/>
<rect x="636" y="224" width="1" height="1" fill="#af2634"/>
<rect x="637" y="224" width="1" height="1" fill="#b42834"/>
<rect x="638" y="224" width="1" height="1" fill="#b92b32"/>
<rect x="639" y="224" width="1" height="1" fill="#bc2d32"/>
<rect x="640" y="224" width="1" height="1" fill="#b32834"/>
<rect x="641" y="224" width="1" height="1" fill="#c8382d"/>
<rect x="642" y="224" width="1" height="1" fill="#c8392c"/>
<rect x="643" y="224" width="1" height="1" fill="#c2332f"/>
<rect x="644" y="224" width="1" height="1" fill="#c4352e"/>
<rect x="645" y="224" width="1" height="1" fill="#d54427"/>
<rect x="646" y="224" width="1" height="1" fill="#f8a62c"/>
<rect x="647" y="224" width="1" height="1" fill="#f38b22"/>
<rect x="648" y="224" width="1" height="1" fill="#f18222"/>
<rect x="649" y="224" width="1" height="1" fill="#b72a33"/>
<rect x="650" y="224" width="1" height="1" fill="#b12734"/>
<rect x="621" y="225" width="1" height="1" fill="#b62933"/>
<rect x="622" y="225" width="1" height="1" fill="#bc2e31"/>
<rect x="623" y="225" width="1" height="1" fill="#b62933"/>
<rect x="624" y="225" width="1" height="1" fill="#b92b32"/>
<rect x="625" y="225" width="1" height="1" fill="#c2332f"/>
<rect x="626" y="225" width="1" height="1" fill="#cb3b2b"/>
<rect x="627" y="225" width="1" height="1" fill="#c8392c"/>
<rect x="628" y="225" width="1" height="1" fill="#cd3d2b"/>
<rect x="629" y="225" width="1" height="1" fill="#d54427"/>
<rect x="630" y="225" width="1" height="1" fill="#cf3f2a"/>
<rect x="631" y="225" width="1" height="1" fill="#dc4b24"/>
<rect x="632" y="225" width="1" height="1" fill="#c03130"/>
<rect x="633" y="225" width="1" height="1" fill="#e45722"/>
<rect x="634" y="225" width="1" height="1" fill="#d14129"/>
<rect x="635" y="225" width="1" height="1" fill="#cf3e2a"/>
<rect x="636" y="225" width="1" height="1" fill="#cb3b2b"/>
<rect x="637" y="225" width="1" height="1" fill="#d24128"/>
<rect x="638" y="225" width="1" height="1" fill="#d54427"/>
<rect x="639" y="225" width="1" height="1" fill="#e76222"/>
<rect x="640" y="225" width="1" height="1" fill="#e45722"/>
<rect x="641" y="225" width="1" height="1" fill="#e35322"/>
<rect x="642" y="225" width="1" height="1" fill="#e45722"/>
<rect x="643" y="225" width="1" height="1" fill="#e04e23"/>
<rect x="644" y="225" width="1" height="1" fill="#eb6d22"/>
<rect x="645" y="225" width="1" height="1" fill="#e25122"/>
<rect x="646" y="225" width="1" height="1" fill="#ed7722"/>
<rect x="647" y="225" width="1" height="1" fill="#f69525"/>
<rect x="648" y="225" width="1" height="1" fill="#e55a22"/>
<rect x="649" y="225" width="1" height="1" fill="#cf3f2a"/>
<rect x="650" y="225" width="1" height="1" fill="#c3342f"/>
<rect x="611" y="226" width="1" height="1" fill="#961c39"/>
<rect x="617" y="226" width="1" height="1" fill="#981d39"/>
<rect x="621" y="226" width="1" height="1" fill="#be2f31"/>
<rect x="622" y="226" width="1" height="1" fill="#b42934"/>
<rect x="623" y="226" width="1" height="1" fill="#d14029"/>
<rect x="624" y="226" width="1" height="1" fill="#b92b33"/>
<rect x="625" y="226" width="1" height="1" fill="#c3342e"/>
<rect x="626" y="226" width="1" height="1" fill="#c8382d"/>
<rect x="627" y="226" width="1" height="1" fill="#d84726"/>
<rect x="628" y="226" width="1" height="1" fill="#cc3d2b"/>
<rect x="629" y="226" width="1" height="1" fill="#d24129"/>
<rect x="630" y="226" width="1" height="1" fill="#c9392c"/>
<rect x="631" y="226" width="1" height="1" fill="#e04e23"/>
<rect x="632" y="226" width="1" height="1" fill="#d54427"/>
<rect x="633" y="226" width="1" height="1" fill="#de4d23"/>
<rect x="634" y="226" width="1" height="1" fill="#e86622"/>
<rect x="635" y="226" width="1" height="1" fill="#f07e22"/>
<rect x="636" y="226" width="1" height="1" fill="#ec7022"/>
<rect x="637" y="226" width="1" height="1" fill="#e45722"/>
<rect x="638" y="226" width="1" height="1" fill="#e35422"/>
<rect x="639" y="226" width="1" height="1" fill="#f38922"/>
<rect x="640" y="226" width="1" height="1" fill="#e86522"/>
<rect x="641" y="226" width="1" height="1" fill="#e65d22"/>
<rect x="642" y="226" width="1" height="1" fill="#fab634"/>
<rect x="643" y="226" width="1" height="1" fill="#fbbe38"/>
<rect x="644" y="226" width="1" height="1" fill="#f8ac2f"/>
<rect x="645" y="226" width="1" height="1" fill="#ffe048"/>
<rect x="646" y="226" width="1" height="1" fill="#ffe048"/>
<rect x="647" y="226" width="1" height="1" fill="#ffe048"/>
<rect x="648" y="226" width="1" height="1" fill="#ffe048"/>
<rect x="649" y="226" width="1" height="1" fill="#d94826"/>
<rect x="650" y="226" width="1" height="1" fill="#d54427"/>
<rect x="621" y="227" width="1" height="1" fill="#b02734"/>
<rect x="622" y="227" width="1" height="1" fill="#ca3a2c"/>
<rect x="623" y="227" width="1" height="1" fill="#b42834"/>
<rect x="624" y="227" width="1" height="1" fill="#c8382d"/>
<rect x="625" y="227" width="1" height="1" fill="#c8392c"/>
<rect x="626" y="227" width="1" height="1" fill="#c2332f"/>
<rect x="627" y="227" width="1" height="1" fill="#d74626"/>
<rect x="628" y="227" width="1" height="1" fill="#da4925"/>
<rect x="629" y="227" width="1" height="1" fill="#c4352e"/>
<rect x="630" y="227" width="1" height="1" fill="#e55a22"/>
<rect x="631" y="227" width="1" height="1" fill="#e45722"/>
<rect x="632" y="227" width="1" height="1" fill="#cf3f2a"/>
<rect x="633" y="227" width="1" height="1" fill="#e55a22"/>
<rect x="634" y="227" width="1" height="1" fill="#d94825"/>
<rect x="635" y="227" width="1" height="1" fill="#d54427"/>
<rect x="636" y="227" width="1" height="1" fill="#f07f22"/>
<rect x="637" y="227" width="1" height="1" fill="#d64527"/>
<rect x="638" y="227" width="1" height="1" fill="#ef7d22"/>
<rect x="639" y="227" width="1" height="1" fill="#df4d23"/>
<rect x="640" y="227" width="1" height="1" fill="#dd4c24"/>
<rect x="641" y="227" width="1" height="1" fill="#e45722"/>
<rect x="642" y="227" width="1" height="1" fill="#f7a12a"/>
<rect x="643" y="227" width="1" height="1" fill="#f59424"/>
<rect x="644" y="227" width="1" height="1" fill="#f07e22"/>
<rect x="645" y="227" width="1" height="1" fill="#fab835"/>
<rect x="646" y="227" width="1" height="1" fill="#ffe048"/>
<rect x="647" y="227" width="1" height="1" fill="#fdcd3f"/>
<rect x="648" y="227" width="1" height="1" fill="#ffe048"/>
<rect x="649" y="227" width="1" height="1" fill="#eb6d22"/>
<rect x="650" y="227" width="1" height="1" fill="#c5362e"/>
<rect x="621" y="228" width="1" height="1" fill="#a62336"/>
<rect x="622" y="228" width="1" height="1" fill="#ad2635"/>
<rect x="623" y="228" width="1" height="1" fill="#ad2535"/>
<rect x="624" y="228" width="1" height="1" fill="#b32834"/>
<rect x="625" y="228" width="1" height="1" fill="#b82a33"/>
<rect x="626" y="228" width="1" height="1" fill="#c2332f"/>
<rect x="627" y="228" width="1" height="1" fill="#c4352e"/>
<rect x="628" y="228" width="1" height="1" fill="#b72933"/>
<rect x="629" y="228" width="1" height="1" fill="#c6372d"/>
<rect x="630" y="228" width="1" height="1" fill="#ca3b2c"/>
<rect x="631" y="228" width="1" height="1" fill="#ba2c32"/>
<rect x="632" y="228" width="1" height="1" fill="#b82a33"/>
<rect x="633" y="228" width="1" height="1" fill="#c3342f"/>
<rect x="634" y="228" width="1" height="1" fill="#c5362e"/>
<rect x="635" y="228" width="1" height="1" fill="#bc2e31"/>
<rect x="636" y="228" width="1" height="1" fill="#bc2e31"/>
<rect x="637" y="228" width="1" height="1" fill="#c03130"/>
<rect x="638" y="228" width="1" height="1" fill="#c5362e"/>
<rect x="639" y="228" width="1" height="1" fill="#e04f23"/>
<rect x="640" y="228" width="1" height="1" fill="#d44427"/>
<rect x="641" y="228" width="1" height="1" fill="#e35322"/>
<rect x="642" y="228" width="1" height="1" fill="#e86522"/>
<rect x="643" y="228" width="1" height="1" fill="#e04e23"/>
<rect x="644" y="228" width="1" height="1" fill="#e65f22"/>
<rect x="645" y="228" width="1" height="1" fill="#f38922"/>
<rect x="646" y="228" width="1" height="1" fill="#f9b333"/>
<rect x="647" y="228" width="1" height="1" fill="#ffe048"/>
<rect x="648" y="228" width="1" height="1" fill="#e76222"/>
<rect x="649" y="228" width="1" height="1" fill="#ea6a22"/>
<rect x="650" y="228" width="1" height="1" fill="#c13230"/>
<rect x="621" y="229" width="1" height="1" fill="#991d38"/>
<rect x="622" y="229" width="1" height="1" fill="#a02037"/>
<rect x="623" y="229" width="1" height="1" fill="#981d39"/>
<rect x="624" y="229" width="1" height="1" fill="#9d1f38"/>
<rect x="625" y="229" width="1" height="1" fill="#9d1f38"/>
<rect x="626" y="229" width="1" height="1" fill="#a02037"/>
<rect x="627" y="229" width="1" height="1" fill="#9e1f37"/>
<rect x="628" y="229" width="1" height="1" fill="#a72336"/>
<rect x="629" y="229" width="1" height="1" fill="#a82336"/>
<rect x="630" y="229" width="1" height="1" fill="#ac2535"/>
<rect x="631" y="229" width="1" height="1" fill="#aa2435"/>
<rect x="632" y="229" width="1" height="1" fill="#a22137"/>
<rect x="633" y="229" width="1" height="1" fill="#a82336"/>
<rect x="634" y="229" width="1" height="1" fill="#ae2635"/>
<rect x="635" y="229" width="1" height="1" fill="#a42236"/>
<rect x="636" y="229" width="1" height="1" fill="#b22834"/>
<rect x="637" y="229" width="1" height="1" fill="#a72336"/>
<rect x="638" y="229" width="1" height="1" fill="#b12734"/>
<rect x="639" y="229" width="1" height="1" fill="#ae2635"/>
<rect x="640" y="229" width="1" height="1" fill="#b32834"/>
<rect x="641" y="229" width="1" height="1" fill="#ba2c32"/>
<rect x="642" y="229" width="1" height="1" fill="#af2635"/>
<rect x="643" y="229" width="1" height="1" fill="#ad2535"/>
<rect x="644" y="229" width="1" height="1" fill="#be3030"/>
<rect x="645" y="229" width="1" height="1" fill="#e55c22"/>
<rect x="646" y="229" width="1" height="1" fill="#d54527"/>
<rect x="647" y="229" width="1" height="1" fill="#f07e22"/>
<rect x="648" y="229" width="1" height="1" fill="#ef7b22"/>
<rect x="649" y="229" width="1" height="1" fill="#e04e23"/>
<rect x="650" y="229" width="1" height="1" fill="#bf3030"/>
<rect x="629" y="230" width="1" height="1" fill="#961c39"/>
<rect x="630" y="230" width="1" height="1" fill="#961c39"/>
<rect x="633" y="230" width="1" height="1" fill="#971c39"/>
<rect x="635" y="230" width="1" height="1" fill="#991d38"/>
<rect x="636" y="230" width="1" height="1" fill="#971c39"/>
<rect x="637" y="230" width="1" height="1" fill="#9b1e38"/>
<rect x="638" y="230" width="1" height="1" fill="#9c1e38"/>
<rect x="639" y="230" width="1" height="1" fill="#961c39"/>
<rect x="640" y="230" width="1" height="1" fill="#981d39"/>
<rect x="641" y="230" width="1" height="1" fill="#9d1f38"/>
<rect x="642" y="230" width="1" height="1" fill="#9e1f38"/>
<rect x="643" y="230" width="1" height="1" fill="#9e1f38"/>
<rect x="644" y="230" width="1" height="1" fill="#b02734"/>
<rect x="645" y="230" width="1" height="1" fill="#bc2e31"/>
<rect x="646" y="230" width="1" height="1" fill="#c03230"/>
<rect x="647" y="230" width="1" height="1" fill="#db4a25"/>
<rect x="648" y="230" width="1" height="1" fill="#cd3d2a"/>
<rect x="649" y="230" width="1" height="1" fill="#bc2e31"/>
<rect x="650" y="230" width="1" height="1" fill="#ac2535"/>
</g></g>
<line x1="496.3" y1="76.0" x2="650.6" y2="230.5" stroke="#c9607a" stroke-width="0.75"/>
<circle cx="543.8" cy="123.6" r="1.2" fill="#f08432"/>
<circle cx="589.2" cy="169.0" r="1.0" fill="#e86a36"/>
<use href="#dB"/>
<use href="#dB" transform="matrix(0 1 0.8129 0 433.717 -420.300)"/>
<text x="22.1" y="271.4" font-size="16.8" text-anchor="middle" font-weight="bold" fill="#000">C</text>
<line x1="52.0" y1="246.5" x2="52.0" y2="323.5" stroke="#606060" stroke-width="0.8"/>
<line x1="48.9" y1="323.5" x2="52.0" y2="323.5" stroke="#606060" stroke-width="0.8"/>
<line x1="48.9" y1="312.5" x2="52.0" y2="312.5" stroke="#606060" stroke-width="0.8"/>
<line x1="48.9" y1="301.5" x2="52.0" y2="301.5" stroke="#606060" stroke-width="0.8"/>
<line x1="48.9" y1="290.5" x2="52.0" y2="290.5" stroke="#606060" stroke-width="0.8"/>
<line x1="48.9" y1="279.5" x2="52.0" y2="279.5" stroke="#606060" stroke-width="0.8"/>
<line x1="48.9" y1="268.5" x2="52.0" y2="268.5" stroke="#606060" stroke-width="0.8"/>
<line x1="48.9" y1="257.5" x2="52.0" y2="257.5" stroke="#606060" stroke-width="0.8"/>
<line x1="48.9" y1="246.5" x2="52.0" y2="246.5" stroke="#606060" stroke-width="0.8"/>
<text x="44.4" y="323.5" font-size="5.9" text-anchor="middle" fill="#222" transform="rotate(-90 44.4 323.5)" stroke="#222" stroke-width="0.12">0.6</text>
<text x="44.4" y="301.5" font-size="5.9" text-anchor="middle" fill="#222" transform="rotate(-90 44.4 301.5)" stroke="#222" stroke-width="0.12">0.8</text>
<text x="44.4" y="279.5" font-size="5.9" text-anchor="middle" fill="#222" transform="rotate(-90 44.4 279.5)" stroke="#222" stroke-width="0.12">1.0</text>
<text x="44.4" y="257.5" font-size="5.9" text-anchor="middle" fill="#222" transform="rotate(-90 44.4 257.5)" stroke="#222" stroke-width="0.12">1.2</text>
<line x1="61.2" y1="247.3" x2="228.6" y2="247.3" stroke="#444" stroke-width="0.8"/>
<line x1="61.2" y1="247.3" x2="61.2" y2="253.5" stroke="#444" stroke-width="0.8"/>
<line x1="228.6" y1="247.3" x2="228.6" y2="312.3" stroke="#444" stroke-width="0.8"/>
<line x1="172.7" y1="312.3" x2="284.7" y2="312.3" stroke="#444" stroke-width="0.8"/>
<line x1="172.7" y1="312.3" x2="172.7" y2="319.0" stroke="#444" stroke-width="0.8"/>
<line x1="284.7" y1="312.3" x2="284.7" y2="319.0" stroke="#444" stroke-width="0.8"/>
<text x="62.3" y="258.4" font-size="5.7" text-anchor="end" fill="#222" transform="rotate(-90 62.3 258.4)" stroke="#222" stroke-width="0.12">MEblue</text>
<text x="173.9" y="323.3" font-size="5.9" text-anchor="end" fill="#222" transform="rotate(-90 173.9 323.3)" stroke="#222" stroke-width="0.12">MEgreen</text>
<text x="285.9" y="323.3" font-size="5.9" text-anchor="end" fill="#222" transform="rotate(-90 285.9 323.3)" stroke="#222" stroke-width="0.12">MEyellow</text>
<rect x="51.80" y="356.90" width="80.10" height="31.00" fill="#ff3300"/>
<rect x="131.90" y="356.90" width="80.00" height="31.00" fill="#4aa4f8"/>
<rect x="211.90" y="356.90" width="80.40" height="31.00" fill="#fde4de"/>
<rect x="51.80" y="387.90" width="80.10" height="30.90" fill="#4aa4f8"/>
<rect x="131.90" y="387.90" width="80.00" height="30.90" fill="#ff3300"/>
<rect x="211.90" y="387.90" width="80.40" height="30.90" fill="#fdc1b0"/>
<rect x="51.80" y="418.80" width="80.10" height="30.80" fill="#fde4de"/>
<rect x="131.90" y="418.80" width="80.00" height="30.80" fill="#fdc1b0"/>
<rect x="211.90" y="418.80" width="80.40" height="30.80" fill="#ff3300"/>
<rect x="51.8" y="356.9" width="240.5" height="92.70000000000005" fill="none" stroke="#777" stroke-width="0.6"/>
<rect x="39.90" y="356.90" width="10.40" height="31.00" fill="#0000ff"/>
<rect x="51.80" y="451.40" width="80.10" height="11.90" fill="#0000ff"/>
<rect x="39.90" y="387.90" width="10.40" height="30.90" fill="#00ff00"/>
<rect x="131.90" y="451.40" width="80.00" height="11.90" fill="#00ff00"/>
<rect x="39.90" y="418.80" width="10.40" height="30.80" fill="#ffff00"/>
<rect x="211.90" y="451.40" width="80.40" height="11.90" fill="#ffff00"/>
<rect x="296.5" y="361.9" width="4.9" height="82.9" fill="url(#lg)" stroke="#666" stroke-width="0.4"/>
<line x1="301.4" y1="444.8" x2="304.4" y2="444.8" stroke="#222" stroke-width="0.6"/>
<text x="305.6" y="446.40000000000003" font-size="4.6" text-anchor="start" fill="#000" stroke="#000" stroke-width="0.15">0</text>
<line x1="301.4" y1="428.22" x2="304.4" y2="428.22" stroke="#222" stroke-width="0.6"/>
<text x="305.6" y="429.82000000000005" font-size="4.6" text-anchor="start" fill="#000" stroke="#000" stroke-width="0.15">0.2</text>
<line x1="301.4" y1="411.64" x2="304.4" y2="411.64" stroke="#222" stroke-width="0.6"/>
<text x="305.6" y="413.24" font-size="4.6" text-anchor="start" fill="#000" stroke="#000" stroke-width="0.15">0.4</text>
<line x1="301.4" y1="395.06" x2="304.4" y2="395.06" stroke="#222" stroke-width="0.6"/>
<text x="305.6" y="396.66" font-size="4.6" text-anchor="start" fill="#000" stroke="#000" stroke-width="0.15">0.6</text>
<line x1="301.4" y1="378.48" x2="304.4" y2="378.48" stroke="#222" stroke-width="0.6"/>
<text x="305.6" y="380.08000000000004" font-size="4.6" text-anchor="start" fill="#000" stroke="#000" stroke-width="0.15">0.8</text>
<line x1="301.4" y1="361.9" x2="304.4" y2="361.9" stroke="#222" stroke-width="0.6"/>
<text x="305.6" y="363.5" font-size="4.6" text-anchor="start" fill="#000" stroke="#000" stroke-width="0.15">1</text>
<text x="393.4" y="271.3" font-size="14.6" text-anchor="middle" font-weight="bold" fill="#000">D</text>
<text x="562.8" y="252.0" font-size="7.45" text-anchor="middle" font-weight="bold" fill="#222">Cluster Dendrogram</text>
<line x1="435.3" y1="266.3" x2="435.3" y2="400.70000000000005" stroke="#606060" stroke-width="0.9"/>
<line x1="431.6" y1="400.70000000000005" x2="435.3" y2="400.70000000000005" stroke="#606060" stroke-width="0.8"/>
<text x="426.2" y="400.70000000000005" font-size="6.0" text-anchor="middle" fill="#222" transform="rotate(-90 426.2 400.70000000000005)" stroke="#222" stroke-width="0.12">0.4</text>
<line x1="431.6" y1="378.3" x2="435.3" y2="378.3" stroke="#606060" stroke-width="0.8"/>
<text x="426.2" y="378.3" font-size="6.0" text-anchor="middle" fill="#222" transform="rotate(-90 426.2 378.3)" stroke="#222" stroke-width="0.12">0.5</text>
<line x1="431.6" y1="355.9" x2="435.3" y2="355.9" stroke="#606060" stroke-width="0.8"/>
<text x="426.2" y="355.9" font-size="6.0" text-anchor="middle" fill="#222" transform="rotate(-90 426.2 355.9)" stroke="#222" stroke-width="0.12">0.6</text>
<line x1="431.6" y1="333.5" x2="435.3" y2="333.5" stroke="#606060" stroke-width="0.8"/>
<text x="426.2" y="333.5" font-size="6.0" text-anchor="middle" fill="#222" transform="rotate(-90 426.2 333.5)" stroke="#222" stroke-width="0.12">0.7</text>
<line x1="431.6" y1="311.1" x2="435.3" y2="311.1" stroke="#606060" stroke-width="0.8"/>
<text x="426.2" y="311.1" font-size="6.0" text-anchor="middle" fill="#222" transform="rotate(-90 426.2 311.1)" stroke="#222" stroke-width="0.12">0.8</text>
<line x1="431.6" y1="288.7" x2="435.3" y2="288.7" stroke="#606060" stroke-width="0.8"/>
<text x="426.2" y="288.7" font-size="6.0" text-anchor="middle" fill="#222" transform="rotate(-90 426.2 288.7)" stroke="#222" stroke-width="0.12">0.9</text>
<line x1="431.6" y1="266.3" x2="435.3" y2="266.3" stroke="#606060" stroke-width="0.8"/>
<text x="426.2" y="266.3" font-size="6.0" text-anchor="middle" fill="#222" transform="rotate(-90 426.2 266.3)" stroke="#222" stroke-width="0.12">1.0</text>
<text x="412.2" y="332.9" font-size="6.2" text-anchor="middle" fill="#222" transform="rotate(-90 412.2 332.9)" stroke="#222" stroke-width="0.12">Height</text>
<g stroke="#8c8c8c" stroke-width="0.8" stroke-dasharray="1.5 1.35">
<line x1="449.50" y1="270" x2="449.50" y2="403.5"/>
<line x1="454.24" y1="270" x2="454.24" y2="403.5"/>
<line x1="458.97" y1="270" x2="458.97" y2="403.5"/>
<line x1="463.71" y1="270" x2="463.71" y2="403.5"/>
<line x1="468.44" y1="270" x2="468.44" y2="403.5"/>
<line x1="473.18" y1="270" x2="473.18" y2="403.5"/>
<line x1="477.91" y1="270" x2="477.91" y2="403.5"/>
<line x1="482.65" y1="270" x2="482.65" y2="403.5"/>
<line x1="487.38" y1="270" x2="487.38" y2="403.5"/>
<line x1="492.12" y1="270" x2="492.12" y2="403.5"/>
<line x1="496.85" y1="270" x2="496.85" y2="403.5"/>
<line x1="501.59" y1="270" x2="501.59" y2="403.5"/>
<line x1="506.32" y1="270" x2="506.32" y2="403.5"/>
<line x1="511.06" y1="270" x2="511.06" y2="403.5"/>
<line x1="515.79" y1="270" x2="515.79" y2="403.5"/>
<line x1="520.53" y1="270" x2="520.53" y2="403.5"/>
<line x1="525.26" y1="270" x2="525.26" y2="403.5"/>
<line x1="530.00" y1="270" x2="530.00" y2="403.5"/>
<line x1="534.73" y1="270" x2="534.73" y2="403.5"/>
<line x1="539.47" y1="270" x2="539.47" y2="403.5"/>
<line x1="544.20" y1="270" x2="544.20" y2="403.5"/>
<line x1="548.94" y1="270" x2="548.94" y2="403.5"/>
<line x1="553.67" y1="270" x2="553.67" y2="403.5"/>
<line x1="558.41" y1="270" x2="558.41" y2="403.5"/>
<line x1="563.14" y1="270" x2="563.14" y2="403.5"/>
<line x1="567.88" y1="270" x2="567.88" y2="403.5"/>
<line x1="572.61" y1="270" x2="572.61" y2="403.5"/>
<line x1="577.35" y1="270" x2="577.35" y2="403.5"/>
<line x1="582.08" y1="270" x2="582.08" y2="403.5"/>
<line x1="586.82" y1="270" x2="586.82" y2="403.5"/>
<line x1="591.55" y1="270" x2="591.55" y2="403.5"/>
<line x1="596.29" y1="270" x2="596.29" y2="403.5"/>
<line x1="601.02" y1="270" x2="601.02" y2="403.5"/>
<line x1="605.76" y1="270" x2="605.76" y2="403.5"/>
<line x1="610.49" y1="270" x2="610.49" y2="403.5"/>
<line x1="615.23" y1="270" x2="615.23" y2="403.5"/>
<line x1="619.96" y1="270" x2="619.96" y2="403.5"/>
<line x1="624.70" y1="270" x2="624.70" y2="403.5"/>
<line x1="629.43" y1="270" x2="629.43" y2="403.5"/>
<line x1="634.17" y1="270" x2="634.17" y2="403.5"/>
<line x1="638.90" y1="270" x2="638.90" y2="403.5"/>
<line x1="643.64" y1="270" x2="643.64" y2="403.5"/>
<line x1="648.37" y1="270" x2="648.37" y2="403.5"/>
<line x1="653.11" y1="270" x2="653.11" y2="403.5"/>
<line x1="657.84" y1="270" x2="657.84" y2="403.5"/>
<line x1="662.58" y1="270" x2="662.58" y2="403.5"/>
<line x1="667.31" y1="270" x2="667.31" y2="403.5"/>
<line x1="672.05" y1="270" x2="672.05" y2="403.5"/>
<line x1="676.78" y1="270" x2="676.78" y2="403.5"/>
</g>
<polygon points="444.80,266.30 445.30,266.30 445.80,266.30 446.30,266.30 446.80,266.30 447.30,266.30 447.80,266.30 448.30,266.30 448.80,266.30 449.30,266.30 449.80,266.30 450.30,266.30 450.80,266.30 451.30,266.30 451.80,266.30 452.30,266.30 452.80,266.30 453.30,266.30 453.80,266.30 454.30,266.30 454.80,266.30 455.30,266.30 455.80,266.30 456.30,266.30 456.80,266.30 457.30,266.30 457.80,266.30 458.30,266.30 458.80,266.30 459.30,266.30 459.80,266.30 460.30,266.30 460.80,266.30 461.30,266.30 461.80,266.30 462.30,266.30 462.80,266.30 463.30,266.30 463.80,266.30 464.30,266.30 464.80,266.30 465.30,266.30 465.80,266.30 466.30,266.30 466.80,266.30 467.30,266.30 467.80,266.30 468.30,266.30 468.80,266.30 469.30,266.30 469.80,266.30 470.30,266.30 470.80,266.30 471.30,266.30 471.80,266.30 472.30,266.30 472.80,266.30 473.30,266.30 473.80,266.30 474.30,266.30 474.80,266.30 475.30,266.30 475.80,266.30 476.30,266.30 476.80,266.30 477.30,266.30 477.80,266.30 478.30,266.30 478.80,266.30 479.30,266.30 479.80,266.30 480.30,266.30 480.80,266.30 481.30,266.30 481.80,266.30 482.30,266.30 482.80,266.30 483.30,266.30 483.80,266.30 484.30,266.30 484.80,266.30 485.30,266.30 485.80,266.30 486.30,266.30 486.80,266.30 487.30,266.30 487.80,266.30 488.30,266.30 488.80,266.30 489.30,266.30 489.80,266.30 490.30,266.30 490.80,266.30 491.30,266.30 491.80,266.30 492.30,266.30 492.80,266.30 493.30,266.30 493.80,266.30 494.30,266.30 494.80,266.30 495.30,266.30 495.80,266.30 496.30,266.30 496.80,266.30 497.30,266.30 497.80,266.30 498.30,266.30 498.80,266.30 499.30,266.30 499.80,266.30 500.30,266.30 500.80,266.30 501.30,266.30 501.80,266.30 502.30,266.30 502.80,266.30 503.30,266.30 503.80,266.30 504.30,266.30 504.80,266.30 505.30,266.30 505.80,266.30 506.30,266.30 506.80,266.30 507.30,266.30 507.80,266.30 508.30,266.30 508.80,266.30 509.30,266.30 509.80,266.30 510.30,266.30 510.80,266.30 511.30,266.30 511.80,266.30 511.80,269.80 511.30,269.80 510.80,269.80 510.30,269.80 509.80,269.80 509.30,269.80 508.80,269.80 508.30,269.80 507.80,269.80 507.30,269.80 506.80,269.80 506.30,269.80 505.80,269.80 505.30,269.80 504.80,269.80 504.30,269.80 503.80,269.80 503.30,269.80 502.80,269.80 502.30,269.80 501.80,269.80 501.30,269.80 500.80,269.80 500.30,269.80 499.80,269.80 499.30,269.80 498.80,269.80 498.30,269.80 497.80,269.80 497.30,269.80 496.80,269.80 496.30,269.80 495.80,269.80 495.30,269.80 494.80,269.80 494.30,269.80 493.80,269.80 493.30,269.80 492.80,269.80 492.30,269.80 491.80,269.80 491.30,269.80 490.80,269.80 490.30,269.80 489.80,269.80 489.30,269.80 488.80,269.80 488.30,269.80 487.80,269.80 487.30,269.80 486.80,269.80 486.30,269.80 485.80,269.80 485.30,269.80 484.80,269.80 484.30,269.80 483.80,269.80 483.30,269.80 482.80,269.80 482.30,269.80 481.80,269.80 481.30,269.80 480.80,269.80 480.30,269.80 479.80,269.80 479.30,269.80 478.80,269.80 478.30,269.80 477.80,269.80 477.30,269.80 476.80,269.80 476.30,269.80 475.80,269.80 475.30,269.80 474.80,269.80 474.30,269.80 473.80,269.80 473.30,269.80 472.80,269.80 472.30,269.80 471.80,269.80 471.30,269.80 470.80,269.80 470.30,269.80 469.80,269.80 469.30,269.80 468.80,269.80 468.30,269.80 467.80,269.80 467.30,269.80 466.80,269.80 466.30,269.80 465.80,269.80 465.30,269.80 464.80,269.80 464.30,269.80 463.80,269.80 463.30,269.80 462.80,269.80 462.30,269.80 461.80,269.80 461.30,269.80 460.80,269.80 460.30,269.80 459.80,269.80 459.30,269.80 458.80,269.80 458.30,269.80 457.80,269.80 457.30,269.80 456.80,269.80 456.30,269.80 455.80,269.80 455.30,269.80 454.80,269.80 454.30,269.80 453.80,269.80 453.30,269.80 452.80,269.80 452.30,269.80 451.80,269.80 451.30,269.80 450.80,269.80 450.30,269.80 449.80,269.80 449.30,269.80 448.80,269.80 448.30,269.80 447.80,269.80 447.30,269.80 446.80,269.80 446.30,269.80 445.80,269.80 445.30,269.80 444.80,269.80" fill="#000" opacity="1.0"/><polygon points="511.50,266.80 512.00,266.94 512.50,267.08 513.00,267.22 513.50,267.36 514.00,267.50 514.50,267.56 515.00,267.62 515.50,267.68 516.00,267.74 516.50,267.80 517.00,267.86 517.50,267.92 518.00,267.98 518.00,278.03 517.50,287.12 517.00,285.19 516.50,283.26 516.00,281.34 515.50,279.88 515.00,278.42 514.50,276.96 514.00,275.50 513.50,274.56 513.00,273.62 512.50,272.68 512.00,271.74 511.50,270.80" fill="#000" opacity="1.0"/><polygon points="518.20,266.30 518.70,266.30 519.20,266.30 519.70,266.30 520.20,266.30 520.70,266.30 521.20,266.30 521.70,266.30 522.20,266.30 522.70,266.30 523.20,266.30 523.70,266.30 524.20,266.30 524.70,266.30 525.20,266.30 525.70,266.30 526.20,266.30 526.70,266.30 527.20,266.30 527.70,266.30 528.20,266.30 528.70,266.30 529.20,266.30 529.70,266.30 530.20,266.30 530.70,266.30 531.20,266.30 531.70,266.30 532.20,266.30 532.70,266.30 533.20,266.30 533.70,266.30 534.20,266.30 534.70,266.30 535.20,266.30 535.70,266.30 536.20,266.30 536.70,266.30 537.20,266.30 537.70,266.30 538.20,266.30 538.70,266.30 539.20,266.30 539.70,266.30 540.20,266.30 540.70,266.30 541.20,266.30 541.70,266.30 542.20,266.30 542.70,266.30 543.20,266.30 543.70,266.30 544.20,266.30 544.70,266.30 544.70,269.67 544.20,269.78 543.70,269.89 543.20,270.00 542.70,270.11 542.20,270.22 541.70,270.33 541.20,270.44 540.70,270.55 540.20,270.66 539.70,270.87 539.20,271.14 538.70,271.41 538.20,271.69 537.70,271.96 537.20,272.24 536.70,272.51 536.20,272.79 535.70,273.06 535.20,273.34 534.70,273.38 534.20,273.27 533.70,273.16 533.20,273.05 532.70,272.94 532.20,272.83 531.70,272.72 531.20,272.61 530.70,272.50 530.20,272.39 529.70,272.33 529.20,272.30 528.70,272.26 528.20,272.23 527.70,272.19 527.20,272.16 526.70,272.12 526.20,272.09 525.70,272.05 525.20,272.02 524.70,271.99 524.20,271.95 523.70,271.92 523.20,271.88 522.70,271.85 522.20,271.81 521.70,271.58 521.20,271.22 520.70,270.86 520.20,270.50 519.70,270.14 519.20,269.77 518.70,269.41 518.20,269.05" fill="#000" opacity="1.0"/><polygon points="545.00,266.30 545.50,266.30 546.00,266.30 546.50,266.30 547.00,266.30 547.50,266.30 548.00,266.30 548.50,266.30 549.00,266.30 549.50,266.30 550.00,266.30 550.50,266.30 551.00,266.30 551.50,266.30 552.00,266.30 552.50,266.30 553.00,266.30 553.50,266.30 554.00,266.30 554.50,266.30 555.00,266.30 555.50,266.30 556.00,266.30 556.50,266.30 557.00,266.30 557.50,266.30 558.00,266.30 558.50,266.30 559.00,266.30 559.50,266.30 560.00,266.30 560.50,266.30 561.00,266.30 561.50,266.30 562.00,266.30 562.50,266.30 563.00,266.30 563.50,266.30 564.00,266.30 564.50,266.30 565.00,266.30 565.50,266.30 566.00,266.30 566.00,270.15 565.50,270.20 565.00,270.24 564.50,270.29 564.00,270.33 563.50,270.38 563.00,270.43 562.50,270.47 562.00,270.52 561.50,270.56 561.00,270.61 560.50,270.65 560.00,270.70 559.50,270.73 559.00,270.75 558.50,270.78 558.00,270.81 557.50,270.84 557.00,270.87 556.50,270.89 556.00,270.92 555.50,270.95 555.00,270.98 554.50,271.00 554.00,271.03 553.50,271.06 553.00,271.09 552.50,271.11 552.00,271.14 551.50,271.17 551.00,271.19 550.50,271.22 550.00,271.25 549.50,271.03 549.00,270.81 548.50,270.59 548.00,270.37 547.50,270.15 547.00,269.93 546.50,269.71 546.00,269.49 545.50,269.27 545.00,269.05" fill="#000" opacity="1.0"/><polygon points="566.00,266.40 566.50,266.40 567.00,266.42 567.50,266.44 568.00,266.47 568.50,266.50 569.00,266.55 569.50,266.60 570.00,266.66 570.50,266.74 571.00,266.81 571.50,266.90 572.00,267.00 572.50,267.10 573.00,267.21 573.50,267.33 574.00,267.46 574.50,267.60 575.00,267.74 575.50,267.89 576.00,268.05 576.50,268.22 577.00,268.40 577.50,268.59 578.00,268.78 578.50,268.99 579.00,269.20 579.50,269.42 580.00,269.64 580.50,269.88 581.00,270.12 581.50,270.37 582.00,270.64 582.50,270.90 583.00,271.18 583.50,271.47 584.00,271.76 584.50,272.06 585.00,272.37 585.50,272.69 586.00,273.02 586.50,273.35 587.00,273.70 587.50,274.05 588.00,274.41 588.50,274.78 589.00,275.15 589.50,275.54 590.00,275.93 590.50,276.33 591.00,276.74 591.50,277.16 592.00,277.58 592.50,278.02 593.00,278.46 593.50,278.91 594.00,279.37 594.50,279.84 595.00,280.31 595.50,280.80 596.00,281.29 596.50,281.79 597.00,282.30 597.50,282.82 598.00,283.34 598.50,283.88 599.00,284.42 599.50,284.97 600.00,285.53 600.50,286.09 601.00,286.67 601.00,289.67 600.50,289.09 600.00,288.53 599.50,287.97 599.00,287.42 598.50,286.88 598.00,286.34 597.50,285.82 597.00,285.30 596.50,284.79 596.00,284.29 595.50,283.80 595.00,283.31 594.50,282.84 594.00,282.37 593.50,281.91 593.00,281.46 592.50,281.02 592.00,280.58 591.50,280.16 591.00,279.74 590.50,279.33 590.00,278.93 589.50,278.54 589.00,278.15 588.50,277.78 588.00,277.41 587.50,277.05 587.00,276.70 586.50,276.35 586.00,276.02 585.50,275.69 585.00,275.37 584.50,275.06 584.00,274.76 583.50,274.47 583.00,274.18 582.50,273.90 582.00,273.64 581.50,273.37 581.00,273.12 580.50,272.88 580.00,272.64 579.50,272.42 579.00,272.20 578.50,271.99 578.00,271.78 577.50,271.59 577.00,271.40 576.50,271.22 576.00,271.05 575.50,270.89 575.00,270.74 574.50,270.60 574.00,270.46 573.50,270.33 573.00,270.21 572.50,270.10 572.00,270.00 571.50,269.90 571.00,269.81 570.50,269.74 570.00,269.66 569.50,269.60 569.00,269.55 568.50,269.50 568.00,269.47 567.50,269.44 567.00,269.42 566.50,269.40 566.00,269.40" fill="#000" opacity="1.0"/><polygon points="601.20,266.80 601.70,266.88 602.20,266.96 602.70,267.04 603.20,267.12 603.70,267.20 604.20,267.28 604.70,267.36 605.20,267.44 605.70,267.52 606.20,267.60 606.70,267.68 607.20,267.75 607.70,267.83 608.20,267.91 608.70,267.99 609.20,268.07 609.70,268.15 610.20,268.23 610.70,268.29 611.20,268.36 611.70,268.42 612.20,268.49 612.70,268.55 613.20,268.62 613.70,268.68 614.20,268.75 614.70,268.81 615.20,268.88 615.70,268.94 616.20,269.01 616.70,269.07 617.20,269.14 617.70,269.20 618.20,269.27 618.70,269.33 619.20,269.40 619.70,269.46 620.20,269.57 620.70,269.73 621.20,269.90 621.70,270.06 622.20,270.23 622.70,270.39 623.20,270.56 623.70,270.72 624.20,270.89 624.70,271.05 625.20,271.22 625.70,271.38 626.20,271.55 626.70,271.71 627.20,271.88 627.70,272.04 628.20,272.21 628.70,272.37 629.20,272.54 629.70,272.70 630.20,272.88 630.70,273.08 631.20,273.28 631.70,273.48 632.20,273.68 632.70,273.88 633.20,274.08 633.70,274.28 634.20,274.48 634.70,274.68 635.20,274.88 635.70,275.08 636.20,275.28 636.70,275.48 637.20,275.68 637.70,275.88 638.20,276.04 638.70,276.14 639.20,276.24 639.70,276.34 640.20,276.44 640.70,276.54 641.20,276.64 641.70,276.74 642.20,276.84 642.70,276.94 642.70,279.44 642.20,279.34 641.70,279.24 641.20,279.14 640.70,279.04 640.20,278.94 639.70,278.84 639.20,278.74 638.70,278.64 638.20,278.54 637.70,278.38 637.20,278.18 636.70,277.98 636.20,277.78 635.70,277.58 635.20,277.38 634.70,277.18 634.20,276.98 633.70,276.78 633.20,276.58 632.70,276.38 632.20,276.18 631.70,275.98 631.20,275.78 630.70,275.58 630.20,275.38 629.70,275.20 629.20,275.04 628.70,274.87 628.20,274.71 627.70,274.54 627.20,274.38 626.70,274.21 626.20,274.05 625.70,273.88 625.20,273.72 624.70,273.55 624.20,273.39 623.70,273.22 623.20,273.06 622.70,272.89 622.20,272.73 621.70,272.56 621.20,272.40 620.70,272.23 620.20,272.07 619.70,271.96 619.20,271.90 618.70,271.83 618.20,271.77 617.70,271.70 617.20,271.64 616.70,271.57 616.20,271.51 615.70,271.44 615.20,271.38 614.70,271.31 614.20,271.25 613.70,271.18 613.20,271.12 612.70,271.05 612.20,270.99 611.70,270.92 611.20,270.86 610.70,270.79 610.20,270.73 609.70,270.65 609.20,270.57 608.70,270.49 608.20,270.41 607.70,270.33 607.20,270.25 606.70,270.18 606.20,270.10 605.70,270.02 605.20,269.94 604.70,269.86 604.20,269.78 603.70,269.70 603.20,269.62 602.70,269.54 602.20,269.46 601.70,269.38 601.20,269.30" fill="#000" opacity="1.0"/><polygon points="643.00,276.00 643.50,276.27 644.00,276.54 644.50,276.80 645.00,277.07 645.50,277.34 646.00,277.61 646.50,277.88 647.00,278.15 647.50,278.41 648.00,278.68 648.50,278.95 649.00,279.22 649.50,279.49 650.00,279.75 650.50,280.02 651.00,280.29 651.50,280.56 652.00,280.83 652.50,281.10 653.00,281.36 653.50,281.63 654.00,281.90 654.00,286.40 653.50,286.13 653.00,285.86 652.50,285.60 652.00,285.33 651.50,285.06 651.00,284.79 650.50,284.52 650.00,284.25 649.50,283.99 649.00,283.72 648.50,283.45 648.00,283.18 647.50,282.91 647.00,282.65 646.50,282.38 646.00,282.11 645.50,281.84 645.00,281.57 644.50,281.30 644.00,281.04 643.50,280.77 643.00,280.50" fill="#000" opacity="1.0"/><polygon points="654.00,266.30 654.50,266.30 655.00,266.30 655.50,266.30 656.00,266.30 656.50,266.30 657.00,266.30 657.50,266.30 658.00,266.30 658.50,266.30 659.00,266.30 659.50,266.30 660.00,266.30 660.50,266.30 661.00,266.30 661.50,266.30 662.00,266.30 662.50,266.30 663.00,266.30 663.50,266.30 664.00,266.30 664.50,266.30 665.00,266.30 665.50,266.30 666.00,266.30 666.50,266.30 667.00,266.30 667.50,266.30 668.00,266.30 668.50,266.30 669.00,266.30 669.50,266.30 670.00,266.30 670.50,266.30 671.00,266.30 671.50,266.30 672.00,266.30 672.50,266.30 673.00,266.30 673.50,266.30 674.00,266.30 674.50,266.30 675.00,266.30 675.50,266.30 676.00,266.30 676.50,266.30 677.00,266.30 677.50,266.30 678.00,266.30 678.50,266.30 679.00,266.30 679.50,266.30 680.00,266.30 680.50,266.30 681.00,266.30 681.00,270.50 680.50,270.64 680.00,270.78 679.50,270.92 679.00,271.06 678.50,271.20 678.00,271.34 677.50,271.48 677.00,271.62 676.50,271.76 676.00,271.90 675.50,271.67 675.00,271.43 674.50,271.20 674.00,270.97 673.50,270.73 673.00,270.50 672.50,270.27 672.00,270.03 671.50,269.80 671.00,269.57 670.50,269.33 670.00,269.10 669.50,269.10 669.00,269.10 668.50,269.10 668.00,269.10 667.50,269.10 667.00,269.10 666.50,269.10 666.00,269.10 665.50,269.10 665.00,269.10 664.50,269.10 664.00,269.10 663.50,269.10 663.00,269.10 662.50,269.10 662.00,269.10 661.50,269.54 661.00,269.98 660.50,270.41 660.00,270.85 659.50,271.29 659.00,271.73 658.50,272.16 658.00,272.60 657.50,272.34 657.00,272.07 656.50,271.81 656.00,271.55 655.50,271.29 655.00,271.03 654.50,270.76 654.00,270.50" fill="#000" opacity="1.0"/><path d="M444.80 266.30V270.22M446.35 266.30V270.48M449.20 266.30V270.26M450.91 266.30V271.00M451.61 266.30V271.10M452.57 266.30V269.99M458.74 266.30V270.08M462.60 266.30V270.44M466.81 266.30V270.04M468.70 266.30V269.88M475.36 266.30V269.89M485.08 266.30V271.10M489.38 266.30V270.35M501.88 266.30V270.48M505.31 266.30V270.34M505.92 266.30V271.10M507.49 266.30V270.39M509.36 266.30V270.40M511.33 266.30V270.21M513.51 267.36V279.78M520.16 266.30V285.58M531.82 266.30V279.08M542.06 266.30V284.94M546.17 266.30V274.35M547.92 266.30V285.34M553.98 266.30V276.48M555.28 266.30V276.46M560.88 266.30V276.43M565.39 266.30V276.50M566.00 266.40V280.65M568.90 266.54V282.38M573.83 267.41V278.44M577.05 268.42V279.42M605.73 267.52V276.82M608.25 267.92V288.52M623.80 270.75V283.28M643.00 276.00V291.54M659.26 266.30V274.36M668.45 266.30V275.50" stroke="#000" stroke-width="0.75" fill="none" opacity="0.75"/><path d="M445.33 266.30V270.31M445.89 266.30V271.10M447.11 266.30V270.73M447.44 266.30V270.32M447.88 266.30V269.93M448.58 266.30V270.34M449.97 266.30V271.10M453.23 266.30V270.03M453.58 266.30V270.67M454.11 266.30V269.88M454.73 266.30V269.98M455.17 266.30V269.84M455.68 266.30V271.10M456.92 266.30V270.16M457.50 266.30V269.98M458.03 266.30V271.10M460.18 266.30V271.10M460.55 266.30V269.93M461.25 266.30V270.42M461.89 266.30V270.01M463.02 266.30V270.26M463.51 266.30V270.37M464.23 266.30V270.82M464.58 266.30V270.25M468.10 266.30V270.48M470.00 266.30V270.08M470.66 266.30V270.28M471.21 266.30V271.10M471.55 266.30V269.99M471.95 266.30V271.10M472.67 266.30V270.02M473.19 266.30V271.10M474.37 266.30V270.13M474.82 266.30V270.04M475.89 266.30V270.86M477.01 266.30V270.52M477.62 266.30V270.51M478.44 266.30V270.09M479.00 266.30V270.83M479.68 266.30V269.98M481.09 266.30V271.10M481.51 266.30V271.10M482.16 266.30V270.46M482.89 266.30V270.96M483.41 266.30V270.50M483.75 266.30V270.68M484.43 266.30V270.06M485.62 266.30V270.00M487.58 266.30V271.10M488.00 266.30V270.36M488.34 266.30V271.10M489.02 266.30V270.41M490.12 266.30V270.05M490.64 266.30V270.27M491.24 266.30V270.07M491.71 266.30V270.08M492.36 266.30V269.95M492.78 266.30V270.34M493.29 266.30V270.33M495.18 266.30V271.04M495.92 266.30V269.91M496.68 266.30V270.11M497.10 266.30V270.32M497.73 266.30V270.39M498.89 266.30V270.19M499.42 266.30V270.32M499.76 266.30V271.10M500.29 266.30V270.73M501.37 266.30V271.10M503.58 266.30V270.52M504.12 266.30V269.95M504.72 266.30V270.54M506.26 266.30V270.79M506.76 266.30V270.20M508.07 266.30V270.73M508.81 266.30V269.99M509.88 266.30V270.35M510.33 266.30V270.66M511.50 266.80V273.58M511.79 266.88V273.11M512.28 267.02V278.87M512.74 267.15V275.68M514.06 267.51V279.01M514.40 267.55V283.85M514.65 267.58V283.01M515.59 267.69V286.61M516.05 267.74V287.24M516.45 267.79V298.30M516.96 267.85V292.27M517.33 267.90V292.61M517.75 267.95V286.76M518.08 267.99V279.90M518.20 266.30V272.68M518.84 266.30V274.54M519.23 266.30V279.47M520.78 266.30V278.83M521.25 266.30V278.43M521.60 266.30V282.04M522.17 266.30V280.37M522.67 266.30V278.61M523.13 266.30V277.91M523.53 266.30V278.63M524.76 266.30V282.46M525.41 266.30V279.00M526.10 266.30V284.82M526.64 266.30V282.99M527.23 266.30V280.13M527.81 266.30V279.10M528.37 266.30V282.54M528.84 266.30V280.60M529.54 266.30V279.19M530.08 266.30V278.65M530.71 266.30V279.01M531.40 266.30V282.59M532.82 266.30V283.98M533.23 266.30V280.82M533.69 266.30V286.36M534.21 266.30V282.12M534.57 266.30V287.65M535.72 266.30V279.57M536.34 266.30V278.31M536.69 266.30V286.39M537.14 266.30V278.50M537.73 266.30V283.19M539.12 266.30V278.38M540.66 266.30V275.19M541.09 266.30V274.72M541.39 266.30V275.43M542.67 266.30V277.59M543.33 266.30V277.80M543.82 266.30V274.24M544.45 266.30V275.11M544.87 266.30V284.05M545.56 266.30V273.47M546.62 266.30V273.27M546.98 266.30V278.58M547.54 266.30V275.20M548.40 266.30V285.72M548.74 266.30V280.84M549.08 266.30V286.26M549.56 266.30V275.47M549.90 266.30V282.94M550.21 266.30V282.12M550.55 266.30V279.33M551.03 266.30V279.51M552.04 266.30V284.46M552.63 266.30V286.74M553.15 266.30V286.28M553.53 266.30V281.49M554.52 266.30V278.21M555.70 266.30V283.26M556.24 266.30V279.55M557.12 266.30V286.29M557.79 266.30V278.71M558.13 266.30V275.49M558.54 266.30V278.21M559.15 266.30V276.87M559.86 266.30V280.60M560.42 266.30V282.00M561.53 266.30V285.74M562.18 266.30V282.58M562.63 266.30V277.00M563.14 266.30V275.11M563.44 266.30V277.11M564.11 266.30V279.23M564.78 266.30V274.88M565.86 266.30V285.02M569.60 266.61V274.42M570.07 266.67V278.69M571.99 266.99V276.56M572.48 267.10V287.70M573.18 267.25V276.68M575.04 267.75V288.14M575.50 267.89V278.63M576.13 268.10V283.21M578.25 268.88V282.83M578.68 269.06V276.94M579.29 269.32V285.49M579.89 269.59V278.68M580.39 269.82V283.92M581.14 270.19V284.82M581.66 270.46V291.06M583.77 271.62V281.24M586.04 273.05V280.42M586.53 273.37V284.92M588.32 274.64V288.80M588.81 275.01V295.61M590.42 276.26V290.89M591.55 277.20V289.64M592.24 277.79V288.10M593.41 278.83V292.09M594.08 279.45V289.05M595.47 280.76V301.36M596.43 281.72V294.26M596.97 282.27V300.82M598.45 283.83V304.43M599.20 284.63V297.94M600.15 285.69V303.35M600.91 286.57V307.17M601.20 266.80V275.78M601.97 266.92V275.91M603.53 267.17V287.77M604.30 267.29V280.22M604.98 267.40V273.43M606.75 267.68V288.05M607.32 267.77V276.20M609.04 268.05V286.90M609.84 268.17V276.16M610.66 268.29V282.33M611.47 268.39V288.99M612.01 268.46V283.20M612.66 268.55V283.28M613.23 268.62V278.63M614.18 268.74V279.38M614.78 268.82V279.85M615.53 268.92V277.09M616.58 269.05V289.65M617.79 269.21V279.56M618.46 269.30V280.28M619.31 269.41V280.46M620.20 269.57V289.99M620.97 269.82V290.42M621.67 270.05V276.09M623.28 270.58V278.53M627.62 272.01V279.14M629.11 272.51V292.24M629.87 272.76V281.26M631.35 273.34V281.92M632.38 273.75V283.87M632.98 273.99V289.92M633.59 274.23V282.42M634.33 274.53V292.91M635.45 274.98V283.05M637.31 275.72V293.26M638.70 276.14V296.74M639.80 276.36V284.21M640.47 276.49V283.80M641.34 276.67V286.81M642.41 276.88V289.64M643.46 276.25V303.05M645.60 277.39V296.92M646.06 277.64V286.09M647.16 278.23V305.03M647.65 278.49V285.98M648.24 278.81V294.51M648.86 279.15V305.71M649.59 279.54V294.98M650.26 279.89V291.04M650.86 280.22V299.57M651.63 280.63V297.60M652.28 280.98V293.47M653.24 281.49V299.52M653.61 281.69V298.25M654.00 266.30V272.77M654.42 266.30V274.55M654.95 266.30V274.24M657.45 266.30V275.96M658.21 266.30V275.45M658.80 266.30V276.84M659.66 266.30V277.55M660.08 266.30V276.04M660.62 266.30V274.71M661.31 266.30V276.37M661.70 266.30V273.98M663.06 266.30V275.50M664.10 266.30V271.97M665.21 266.30V272.43M665.60 266.30V270.57M666.12 266.30V272.40M666.49 266.30V275.50M667.00 266.30V273.06M669.01 266.30V275.22M669.71 266.30V275.50M670.18 266.30V272.73M670.77 266.30V272.34M671.43 266.30V272.03M671.85 266.30V272.63M673.76 266.30V273.55M675.08 266.30V276.99M676.28 266.30V275.46M676.89 266.30V277.61M677.41 266.30V278.94M677.80 266.30V275.58M678.16 266.30V277.86M678.76 266.30V278.40M679.87 266.30V274.06M680.42 266.30V272.84" stroke="#000" stroke-width="0.75" fill="none" opacity="1.0"/><path d="M450.40 266.30V270.15M452.12 266.30V269.88M456.44 266.30V270.08M459.43 266.30V270.11M465.35 266.30V269.92M466.07 266.30V271.10M467.52 266.30V270.07M469.42 266.30V270.69M473.66 266.30V269.96M476.57 266.30V270.27M478.03 266.30V269.92M480.41 266.30V270.12M486.27 266.30V270.58M486.85 266.30V270.11M493.90 266.30V270.59M494.50 266.30V270.83M496.29 266.30V271.01M498.12 266.30V270.07M500.69 266.30V270.31M502.57 266.30V271.10M503.08 266.30V271.10M510.98 266.30V269.90M511.77 266.30V270.69M513.27 267.29V277.91M515.04 267.62V284.91M519.62 266.30V275.74M524.09 266.30V288.26M532.42 266.30V279.65M535.02 266.30V282.34M538.26 266.30V287.74M538.60 266.30V277.05M539.43 266.30V281.53M540.08 266.30V277.57M545.00 266.30V274.10M551.37 266.30V279.44M554.88 266.30V277.27M556.69 266.30V286.33M559.50 266.30V277.07M566.43 266.40V287.00M567.41 266.43V274.70M567.99 266.47V275.20M571.01 266.81V280.57M574.44 267.58V275.89M577.50 268.59V280.91M582.55 270.93V283.09M583.04 271.20V278.54M584.63 272.14V278.42M585.42 272.64V285.50M587.34 273.94V290.43M589.59 275.61V282.07M590.92 276.68V286.50M592.89 278.37V285.36M594.95 280.27V289.29M597.78 283.11V297.21M602.85 267.06V276.52M617.17 269.13V289.73M622.40 270.29V278.03M624.72 271.06V278.59M625.75 271.40V288.42M626.81 271.75V283.09M628.56 272.32V279.04M630.37 272.95V279.06M636.54 275.42V282.27M638.18 276.04V296.64M643.84 276.45V284.89M644.28 276.68V290.71M645.02 277.08V298.92M646.73 278.00V287.40M652.68 281.19V290.92M655.42 266.30V278.57M656.17 266.30V275.09M656.75 266.30V274.84M662.43 266.30V275.50M663.69 266.30V275.50M664.74 266.30V271.17M667.71 266.30V271.73M672.37 266.30V275.91M673.05 266.30V274.44M674.37 266.30V276.49M675.69 266.30V275.15M679.16 266.30V274.04M680.86 266.30V273.71" stroke="#000" stroke-width="0.75" fill="none" opacity="0.9"/><path d="M462.40 269.00V278.50M488.40 269.00V304.60M548.50 269.00V285.00M592.60 279.48V295.50" stroke="#333" stroke-width="0.7" fill="none" opacity="1.0"/><path d="M466.90 269.00V277.50" stroke="#999" stroke-width="1.3" fill="none" opacity="1.0"/><path d="M471.40 269.00V273.00M474.60 269.00V273.00" stroke="#222" stroke-width="0.6" fill="none" opacity="1.0"/><path d="M478.40 269.00V283.00M541.40 269.00V291.00M602.00 268.93V281.90M624.50 272.99V289.40M641.00 278.60V302.80M653.50 283.63V303.90" stroke="#222" stroke-width="0.8" fill="none" opacity="1.0"/><path d="M481.70 269.00V277.00M520.10 269.00V325.50M550.50 269.00V296.20" stroke="#444" stroke-width="0.8" fill="none" opacity="1.0"/><path d="M484.50 269.00V372.00" stroke="#aaa" stroke-width="0.7" fill="none" opacity="1.0"/><path d="M491.60 269.00V293.60" stroke="#666" stroke-width="1.0" fill="none" opacity="1.0"/><path d="M500.20 269.00V281.40M504.00 269.00V286.50M517.30 269.00V306.00M600.30 287.43V309.00" stroke="#111" stroke-width="0.9" fill="none" opacity="1.0"/><path d="M534.40 269.00V294.30M584.20 273.26V296.80M613.50 270.65V287.30M629.00 274.47V287.80M635.50 277.00V290.00M646.30 279.77V305.90" stroke="#333" stroke-width="0.8" fill="none" opacity="1.0"/><path d="M551.30 269.00V295.50" stroke="#777" stroke-width="0.8" fill="none" opacity="1.0"/><path d="M559.00 269.00V311.00" stroke="#111" stroke-width="0.8" fill="none" opacity="1.0"/><path d="M559.20 269.00V334.00" stroke="#888" stroke-width="0.5" fill="none" opacity="1.0"/><path d="M567.40 269.00V304.00" stroke="#666" stroke-width="0.8" fill="none" opacity="1.0"/><path d="M607.50 269.80V288.30M618.80 271.34V301.80" stroke="#888" stroke-width="0.9" fill="none" opacity="1.0"/><path d="M660.00 269.00V285.20M678.50 269.00V281.00" stroke="#222" stroke-width="0.9" fill="none" opacity="1.0"/><path d="M527.00 269.00V285.00M531.00 269.00V288.00M567.20 269.00V283.50" stroke="#333" stroke-width="0.6" fill="none" opacity="1.0"/><path d="M444.80 266.30H681.00" stroke="#555" stroke-width="0.6" fill="none" opacity="1.0"/><path d="M643.00 280.50H654.00" stroke="#444" stroke-width="0.6" fill="none" opacity="1.0"/><path d="M484.60 372.00V395.00" stroke="#555" stroke-width="0.8" fill="none" opacity="1.0"/>
<rect x="445.00" y="406.20" width="32.90" height="24.30" fill="#bebebe"/>
<rect x="477.90" y="406.20" width="1.60" height="24.30" fill="#d8d080"/>
<rect x="479.50" y="406.20" width="1.50" height="24.30" fill="#bebebe"/>
<rect x="481.00" y="406.20" width="1.00" height="24.30" fill="#d0d090"/>
<rect x="482.00" y="406.20" width="8.00" height="24.30" fill="#bebebe"/>
<rect x="490.00" y="406.20" width="2.60" height="24.30" fill="#b0b0d8"/>
<rect x="492.60" y="406.20" width="2.40" height="24.30" fill="#bebebe"/>
<rect x="495.00" y="406.20" width="1.00" height="24.30" fill="#d0d0a0"/>
<rect x="496.00" y="406.20" width="4.70" height="24.30" fill="#c0c0d0"/>
<rect x="500.70" y="406.20" width="1.10" height="24.30" fill="#a0605a"/>
<rect x="501.80" y="406.20" width="1.00" height="24.30" fill="#b0b0c0"/>
<rect x="502.80" y="406.20" width="2.90" height="24.30" fill="#6868c8"/>
<rect x="505.70" y="406.20" width="2.00" height="24.30" fill="#80b0b0"/>
<rect x="507.70" y="406.20" width="10.70" height="24.30" fill="#ffff00"/>
<rect x="518.40" y="406.20" width="2.60" height="24.30" fill="#b0d0a0"/>
<rect x="521.00" y="406.20" width="1.00" height="24.30" fill="#f0f030"/>
<rect x="522.00" y="406.20" width="2.70" height="24.30" fill="#40e0d0"/>
<rect x="524.70" y="406.20" width="3.20" height="24.30" fill="#f8f820"/>
<rect x="527.90" y="406.20" width="4.10" height="24.30" fill="#40e0d0"/>
<rect x="532.00" y="406.20" width="2.00" height="24.30" fill="#f0f030"/>
<rect x="534.00" y="406.20" width="1.00" height="24.30" fill="#a0e8a0"/>
<rect x="535.00" y="406.20" width="2.00" height="24.30" fill="#f0e040"/>
<rect x="537.00" y="406.20" width="0.80" height="24.30" fill="#c87020"/>
<rect x="537.80" y="406.20" width="2.20" height="24.30" fill="#f8f020"/>
<rect x="540.00" y="406.20" width="1.00" height="24.30" fill="#b0b0e0"/>
<rect x="541.00" y="406.20" width="1.00" height="24.30" fill="#80c0c0"/>
<rect x="542.00" y="406.20" width="1.00" height="24.30" fill="#7090c0"/>
<rect x="543.00" y="406.20" width="1.30" height="24.30" fill="#60d0d0"/>
<rect x="544.30" y="406.20" width="0.70" height="24.30" fill="#a05050"/>
<rect x="545.00" y="406.20" width="1.50" height="24.30" fill="#50d8d0"/>
<rect x="546.50" y="406.20" width="1.00" height="24.30" fill="#90e0e0"/>
<rect x="547.50" y="406.20" width="1.50" height="24.30" fill="#a0a0b0"/>
<rect x="549.00" y="406.20" width="1.00" height="24.30" fill="#50d8d0"/>
<rect x="550.00" y="406.20" width="2.00" height="24.30" fill="#70a0b0"/>
<rect x="552.00" y="406.20" width="1.00" height="24.30" fill="#50d8d0"/>
<rect x="553.00" y="406.20" width="1.00" height="24.30" fill="#806080"/>
<rect x="554.00" y="406.20" width="2.50" height="24.30" fill="#60d0c0"/>
<rect x="556.50" y="406.20" width="1.50" height="24.30" fill="#b0e0e0"/>
<rect x="558.00" y="406.20" width="2.00" height="24.30" fill="#5050b0"/>
<rect x="560.00" y="406.20" width="1.00" height="24.30" fill="#7050a0"/>
<rect x="561.00" y="406.20" width="1.50" height="24.30" fill="#4040c0"/>
<rect x="562.50" y="406.20" width="1.00" height="24.30" fill="#a04060"/>
<rect x="563.50" y="406.20" width="1.50" height="24.30" fill="#3030c0"/>
<rect x="565.00" y="406.20" width="3.50" height="24.30" fill="#0000d8"/>
<rect x="568.50" y="406.20" width="32.50" height="24.30" fill="#40e0d0"/>
<rect x="601.00" y="406.20" width="2.00" height="24.30" fill="#5048b0"/>
<rect x="603.00" y="406.20" width="1.00" height="24.30" fill="#a04848"/>
<rect x="604.00" y="406.20" width="3.00" height="24.30" fill="#4040c0"/>
<rect x="607.00" y="406.20" width="1.00" height="24.30" fill="#a04848"/>
<rect x="608.00" y="406.20" width="4.00" height="24.30" fill="#4848b8"/>
<rect x="612.00" y="406.20" width="5.00" height="24.30" fill="#00f000"/>
<rect x="617.00" y="406.20" width="1.20" height="24.30" fill="#3030d8"/>
<rect x="618.20" y="406.20" width="1.00" height="24.30" fill="#a83838"/>
<rect x="619.20" y="406.20" width="5.80" height="24.30" fill="#2020e0"/>
<rect x="625.00" y="406.20" width="1.00" height="24.30" fill="#a03838"/>
<rect x="626.00" y="406.20" width="1.00" height="24.30" fill="#3030d0"/>
<rect x="627.00" y="406.20" width="1.00" height="24.30" fill="#a04040"/>
<rect x="628.00" y="406.20" width="3.00" height="24.30" fill="#2828d8"/>
<rect x="631.00" y="406.20" width="1.00" height="24.30" fill="#a04040"/>
<rect x="632.00" y="406.20" width="5.00" height="24.30" fill="#4030c0"/>
<rect x="637.00" y="406.20" width="6.00" height="24.30" fill="#a52a2a"/>
<rect x="643.00" y="406.20" width="12.00" height="24.30" fill="#0000f8"/>
<rect x="655.00" y="406.20" width="25.50" height="24.30" fill="#bebebe"/>
<rect x="680.50" y="406.20" width="0.60" height="24.30" fill="#f0f040"/>
<rect x="445.00" y="430.50" width="32.90" height="23.60" fill="#bebebe"/>
<rect x="477.90" y="430.50" width="1.60" height="23.60" fill="#d8d080"/>
<rect x="479.50" y="430.50" width="1.50" height="23.60" fill="#bebebe"/>
<rect x="481.00" y="430.50" width="1.00" height="23.60" fill="#d0d090"/>
<rect x="482.00" y="430.50" width="8.00" height="23.60" fill="#bebebe"/>
<rect x="490.00" y="430.50" width="2.60" height="23.60" fill="#b0b0d8"/>
<rect x="492.60" y="430.50" width="2.40" height="23.60" fill="#bebebe"/>
<rect x="495.00" y="430.50" width="1.00" height="23.60" fill="#d0d0a0"/>
<rect x="496.00" y="430.50" width="4.70" height="23.60" fill="#c0c0d0"/>
<rect x="500.70" y="430.50" width="1.10" height="23.60" fill="#7080c0"/>
<rect x="501.80" y="430.50" width="4.60" height="23.60" fill="#5b6bcb"/>
<rect x="506.40" y="430.50" width="1.30" height="23.60" fill="#60a0a0"/>
<rect x="507.70" y="430.50" width="10.70" height="23.60" fill="#ffff00"/>
<rect x="518.40" y="430.50" width="3.60" height="23.60" fill="#d0e060"/>
<rect x="522.00" y="430.50" width="4.00" height="23.60" fill="#00f000"/>
<rect x="526.00" y="430.50" width="1.50" height="23.60" fill="#f0f020"/>
<rect x="527.50" y="430.50" width="4.50" height="23.60" fill="#10f010"/>
<rect x="532.00" y="430.50" width="3.00" height="23.60" fill="#c0f020"/>
<rect x="535.00" y="430.50" width="2.00" height="23.60" fill="#f0f020"/>
<rect x="537.00" y="430.50" width="0.80" height="23.60" fill="#506040"/>
<rect x="537.80" y="430.50" width="2.20" height="23.60" fill="#f8f820"/>
<rect x="540.00" y="430.50" width="1.00" height="23.60" fill="#8080e0"/>
<rect x="541.00" y="430.50" width="2.00" height="23.60" fill="#3080a0"/>
<rect x="543.00" y="430.50" width="1.00" height="23.60" fill="#4060d0"/>
<rect x="544.00" y="430.50" width="2.00" height="23.60" fill="#30d040"/>
<rect x="546.00" y="430.50" width="1.00" height="23.60" fill="#40a0a0"/>
<rect x="547.00" y="430.50" width="1.50" height="23.60" fill="#30e040"/>
<rect x="548.50" y="430.50" width="1.00" height="23.60" fill="#4060d0"/>
<rect x="549.50" y="430.50" width="1.50" height="23.60" fill="#30e040"/>
<rect x="551.00" y="430.50" width="1.50" height="23.60" fill="#4090b0"/>
<rect x="552.50" y="430.50" width="1.50" height="23.60" fill="#30e040"/>
<rect x="554.00" y="430.50" width="1.00" height="23.60" fill="#4060d0"/>
<rect x="555.00" y="430.50" width="2.00" height="23.60" fill="#40e040"/>
<rect x="557.00" y="430.50" width="1.00" height="23.60" fill="#90e090"/>
<rect x="558.00" y="430.50" width="7.00" height="23.60" fill="#3040d0"/>
<rect x="565.00" y="430.50" width="3.50" height="23.60" fill="#0000d8"/>
<rect x="568.50" y="430.50" width="32.50" height="23.60" fill="#00ff00"/>
<rect x="601.00" y="430.50" width="2.00" height="23.60" fill="#3040e0"/>
<rect x="603.00" y="430.50" width="1.00" height="23.60" fill="#5080f0"/>
<rect x="604.00" y="430.50" width="3.00" height="23.60" fill="#2030e0"/>
<rect x="607.00" y="430.50" width="1.00" height="23.60" fill="#5080f0"/>
<rect x="608.00" y="430.50" width="4.00" height="23.60" fill="#2030e0"/>
<rect x="612.00" y="430.50" width="5.00" height="23.60" fill="#00f000"/>
<rect x="617.00" y="430.50" width="38.00" height="23.60" fill="#0000f8"/>
<rect x="655.00" y="430.50" width="25.50" height="23.60" fill="#bebebe"/>
<rect x="680.50" y="430.50" width="0.60" height="23.60" fill="#f0f040"/>
<rect x="460.80" y="406.20" width="0.60" height="47.90" fill="#d4d4a0"/>
<rect x="467.60" y="406.20" width="0.60" height="47.90" fill="#d4d4a0"/>
<rect x="472.20" y="406.20" width="0.60" height="47.90" fill="#d4d4a0"/>
<rect x="484.00" y="406.20" width="0.60" height="47.90" fill="#d4d4a0"/>
<rect x="487.00" y="406.20" width="0.60" height="47.90" fill="#d4d4a0"/>
<rect x="498.00" y="406.20" width="0.60" height="47.90" fill="#d4d4a0"/>
<rect x="657.00" y="406.20" width="0.60" height="47.90" fill="#d4d4a0"/>
<rect x="661.00" y="406.20" width="0.60" height="47.90" fill="#d4d4a0"/>
<rect x="664.50" y="406.20" width="0.60" height="47.90" fill="#d4d4a0"/>
<rect x="670.00" y="406.20" width="0.60" height="47.90" fill="#d4d4a0"/>
<rect x="676.00" y="406.20" width="0.60" height="47.90" fill="#d4d4a0"/>
<rect x="445.0" y="406.2" width="236.10000000000002" height="47.9" fill="none" stroke="#666" stroke-width="0.6"/>
<line x1="445.0" y1="430.5" x2="681.1" y2="430.5" stroke="#222" stroke-width="0.9"/>
<text x="441.2" y="420.3" font-size="5.1" text-anchor="end" fill="#111" stroke="#111" stroke-width="0.12">Dynamic Tree Cut</text>
<text x="441.2" y="444.1" font-size="5.05" text-anchor="end" fill="#111" stroke="#111" stroke-width="0.12">Merged dynamic</text>
</svg></body></html>
